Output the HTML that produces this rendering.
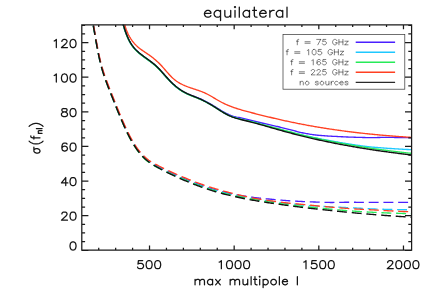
<!DOCTYPE html>
<html><head><meta charset="utf-8"><title>equilateral</title>
<style>html,body{margin:0;padding:0;background:#fff;font-family:"Liberation Sans",sans-serif}body{width:436px;height:300px;overflow:hidden}</style>
</head><body>
<svg width="436" height="300" viewBox="0 0 436 300" style="display:block">
<title>equilateral</title><desc>Plot titled "equilateral": sigma(f_nl) versus max multipole l (100 to 2048), y range 0 to 130. Solid and dashed curves for f = 75 GHz, f = 105 GHz, f = 165 GHz, f = 225 GHz and no sources.</desc>
<rect width="436" height="300" fill="#fff"/>
<defs><clipPath id="pc"><rect x="81.80" y="24.80" width="329.80" height="225.20"/></clipPath></defs>
<g transform="scale(1 1.0000)">
<g clip-path="url(#pc)"><g transform="scale(1 0.950)" fill="none" stroke-width="1.40" stroke-linejoin="round">
<path d="M122.03 20.96 L122.29 22.04 L122.55 23.13 L122.83 24.22 L123.10 25.31 L123.39 26.41 L123.68 27.50 L123.99 28.60 L124.30 29.69 L124.62 30.78 L124.95 31.87 L125.29 32.95 L125.65 34.03 L126.02 35.11 L126.40 36.17 L126.79 37.23 L127.20 38.28 L127.63 39.33 L128.07 40.36 L128.53 41.38 L129.00 42.38 L129.50 43.38 L130.01 44.36 L130.54 45.32 L131.09 46.27 L131.67 47.20 L132.26 48.12 L132.88 49.01 L133.52 49.89 L134.19 50.75 L134.88 51.58 L135.59 52.39 L136.33 53.18 L137.08 53.95 L137.86 54.70 L138.65 55.44 L139.46 56.16 L140.29 56.87 L141.12 57.56 L141.96 58.25 L142.82 58.92 L143.67 59.59 L144.54 60.26 L145.40 60.92 L146.27 61.58 L147.14 62.24 L148.01 62.90 L148.87 63.56 L149.73 64.22 L150.59 64.90 L151.44 65.57 L152.28 66.26 L153.11 66.96 L153.93 67.67 L154.74 68.40 L155.54 69.14 L156.33 69.90 L157.10 70.67 L157.86 71.46 L158.61 72.25 L159.35 73.06 L160.09 73.88 L160.82 74.71 L161.54 75.55 L162.26 76.39 L162.97 77.23 L163.69 78.08 L164.40 78.93 L165.11 79.78 L165.82 80.63 L166.53 81.47 L167.25 82.31 L167.97 83.15 L168.70 83.98 L169.43 84.80 L170.17 85.61 L170.92 86.41 L171.68 87.20 L172.45 87.98 L173.23 88.74 L174.02 89.49 L174.82 90.22 L175.63 90.94 L176.46 91.64 L177.29 92.32 L178.13 92.99 L178.99 93.64 L179.85 94.27 L180.73 94.88 L181.62 95.48 L182.52 96.05 L183.44 96.61 L184.36 97.14 L185.30 97.65 L186.25 98.14 L187.21 98.60 L188.18 99.05 L189.17 99.47 L190.16 99.89 L191.15 100.29 L192.15 100.68 L193.16 101.07 L194.16 101.46 L195.17 101.85 L196.18 102.24 L197.18 102.63 L198.18 103.04 L199.18 103.46 L200.17 103.89 L201.15 104.35 L202.13 104.81 L203.09 105.29 L204.06 105.79 L205.01 106.29 L205.96 106.81 L206.90 107.34 L207.84 107.88 L208.77 108.43 L209.70 108.98 L210.62 109.55 L211.54 110.12 L212.46 110.69 L213.37 111.28 L214.29 111.86 L215.19 112.45 L216.10 113.05 L217.01 113.64 L217.91 114.23 L218.82 114.82 L219.73 115.41 L220.64 115.99 L221.55 116.56 L222.46 117.12 L223.38 117.67 L224.30 118.21 L225.22 118.73 L226.15 119.24 L227.08 119.73 L228.02 120.20 L228.96 120.65 L229.92 121.07 L230.88 121.47 L231.85 121.84 L232.83 122.19 L233.81 122.51 L234.81 122.80 L235.82 123.07 L236.85 123.30 L237.88 123.49 L238.92 123.69 L239.95 123.91 L240.98 124.18 L242.01 124.44 L243.04 124.71 L244.08 124.97 L245.12 125.24 L246.16 125.51 L247.21 125.78 L248.25 126.04 L249.30 126.31 L250.34 126.57 L251.39 126.83 L252.43 127.09 L253.48 127.36 L254.52 127.63 L255.56 127.89 L256.60 128.15 L257.65 128.42 L258.69 128.68 L259.73 128.94 L260.77 129.20 L261.81 129.46 L262.86 129.72 L263.90 129.98 L264.94 130.23 L265.98 130.49 L267.03 130.74 L268.07 130.99 L269.11 131.24 L270.16 131.48 L271.20 131.73 L272.24 131.97 L273.28 132.22 L274.33 132.46 L275.37 132.70 L276.41 132.94 L277.45 133.18 L278.49 133.44 L279.52 133.70 L280.55 133.97 L281.59 134.24 L282.62 134.51 L283.65 134.78 L284.68 135.06 L285.71 135.33 L286.73 135.60 L287.76 135.87 L288.79 136.14 L289.82 136.42 L290.85 136.69 L291.87 136.98 L292.90 137.27 L293.92 137.57 L294.94 137.87 L295.96 138.17 L296.99 138.46 L298.01 138.75 L299.04 139.02 L300.08 139.28 L301.11 139.53 L302.15 139.76 L303.19 139.98 L304.23 140.20 L305.28 140.41 L306.33 140.61 L307.37 140.80 L308.42 140.99 L309.47 141.17 L310.52 141.36 L311.57 141.54 L312.62 141.71 L313.68 141.86 L314.73 142.00 L315.79 142.13 L316.86 142.25 L317.92 142.36 L318.98 142.46 L320.05 142.56 L321.12 142.66 L322.18 142.75 L323.25 142.84 L324.31 142.93 L325.38 143.02 L326.45 143.10 L327.51 143.17 L328.58 143.24 L329.65 143.30 L330.72 143.36 L331.79 143.42 L332.86 143.48 L333.93 143.53 L335.00 143.58 L336.07 143.64 L337.14 143.69 L338.20 143.75 L339.27 143.81 L340.34 143.87 L341.40 143.92 L342.47 143.98 L343.54 144.03 L344.60 144.08 L345.67 144.13 L346.74 144.18 L347.80 144.22 L348.87 144.26 L349.94 144.31 L351.00 144.35 L352.07 144.39 L353.14 144.42 L354.20 144.46 L355.27 144.49 L356.34 144.53 L357.40 144.56 L358.47 144.59 L359.53 144.62 L360.60 144.66 L361.66 144.69 L362.73 144.71 L363.79 144.74 L364.86 144.76 L365.93 144.79 L366.99 144.80 L368.06 144.82 L369.12 144.83 L370.19 144.84 L371.26 144.84 L372.32 144.84 L373.39 144.83 L374.46 144.81 L375.53 144.80 L376.60 144.78 L377.66 144.75 L378.73 144.73 L379.80 144.71 L380.87 144.69 L381.93 144.67 L383.00 144.65 L384.06 144.63 L385.13 144.62 L386.19 144.62 L387.25 144.62 L388.32 144.62 L389.38 144.63 L390.44 144.65 L391.50 144.66 L392.56 144.68 L393.61 144.69 L394.67 144.71 L395.73 144.72 L396.79 144.74 L397.85 144.75 L398.91 144.75 L399.97 144.76 L401.03 144.77 L402.08 144.78 L403.14 144.78 L404.20 144.79 L405.26 144.79 L406.32 144.80 L407.37 144.80 L408.43 144.80 L409.49 144.80 L410.55 144.80 L411.60 144.80 L412.66 144.80 L413.72 144.80 L414.77 144.80 L415.83 144.80 L416.89 144.80 L417.95 144.80" stroke="#4a1fff"/>
<path d="M122.03 20.96 L122.29 22.04 L122.55 23.13 L122.83 24.22 L123.10 25.31 L123.39 26.41 L123.68 27.50 L123.99 28.60 L124.30 29.69 L124.62 30.78 L124.95 31.87 L125.29 32.95 L125.65 34.03 L126.02 35.11 L126.40 36.17 L126.79 37.23 L127.20 38.28 L127.63 39.33 L128.07 40.36 L128.53 41.38 L129.00 42.38 L129.50 43.38 L130.01 44.36 L130.54 45.32 L131.09 46.27 L131.67 47.20 L132.26 48.12 L132.88 49.01 L133.52 49.89 L134.19 50.75 L134.88 51.58 L135.59 52.39 L136.33 53.18 L137.08 53.95 L137.86 54.70 L138.65 55.44 L139.46 56.16 L140.29 56.87 L141.12 57.56 L141.96 58.25 L142.82 58.92 L143.67 59.59 L144.54 60.26 L145.40 60.92 L146.27 61.58 L147.14 62.24 L148.01 62.90 L148.87 63.56 L149.73 64.22 L150.59 64.90 L151.44 65.57 L152.28 66.26 L153.11 66.96 L153.93 67.67 L154.74 68.40 L155.54 69.14 L156.33 69.90 L157.10 70.67 L157.86 71.46 L158.61 72.25 L159.35 73.06 L160.09 73.88 L160.82 74.71 L161.54 75.55 L162.26 76.39 L162.97 77.23 L163.69 78.08 L164.40 78.93 L165.11 79.78 L165.82 80.63 L166.53 81.47 L167.25 82.31 L167.97 83.15 L168.70 83.98 L169.43 84.80 L170.17 85.61 L170.92 86.41 L171.68 87.20 L172.45 87.98 L173.23 88.75 L174.01 89.50 L174.81 90.24 L175.62 90.96 L176.43 91.67 L177.26 92.36 L178.10 93.04 L178.95 93.70 L179.81 94.34 L180.68 94.96 L181.57 95.57 L182.46 96.15 L183.37 96.72 L184.29 97.27 L185.23 97.79 L186.17 98.30 L187.13 98.78 L188.10 99.25 L189.07 99.70 L190.06 100.13 L191.05 100.56 L192.04 100.98 L193.04 101.39 L194.03 101.80 L195.03 102.21 L196.03 102.62 L197.03 103.04 L198.02 103.46 L199.00 103.89 L199.98 104.33 L200.96 104.79 L201.92 105.26 L202.89 105.74 L203.84 106.23 L204.79 106.74 L205.73 107.25 L206.67 107.78 L207.61 108.32 L208.53 108.86 L209.46 109.41 L210.38 109.98 L211.30 110.54 L212.21 111.12 L213.12 111.70 L214.03 112.29 L214.94 112.88 L215.84 113.48 L216.74 114.08 L217.64 114.68 L218.54 115.28 L219.44 115.88 L220.34 116.47 L221.25 117.06 L222.16 117.64 L223.07 118.22 L223.98 118.78 L224.90 119.32 L225.83 119.86 L226.76 120.37 L227.70 120.87 L228.65 121.35 L229.60 121.80 L230.57 122.24 L231.54 122.64 L232.53 123.03 L233.52 123.39 L234.52 123.73 L235.53 124.06 L236.55 124.37 L237.57 124.66 L238.59 124.95 L239.63 125.22 L240.66 125.48 L241.70 125.74 L242.74 126.00 L243.79 126.25 L244.83 126.50 L245.87 126.75 L246.92 127.01 L247.96 127.27 L249.00 127.53 L250.04 127.80 L251.08 128.06 L252.12 128.34 L253.16 128.61 L254.20 128.89 L255.23 129.17 L256.27 129.45 L257.30 129.74 L258.34 130.02 L259.37 130.31 L260.40 130.60 L261.43 130.90 L262.46 131.19 L263.49 131.48 L264.52 131.78 L265.55 132.08 L266.58 132.37 L267.61 132.67 L268.64 132.97 L269.67 133.27 L270.70 133.57 L271.72 133.87 L272.75 134.17 L273.78 134.47 L274.81 134.76 L275.83 135.06 L276.86 135.36 L277.89 135.66 L278.92 135.95 L279.94 136.24 L280.97 136.54 L282.00 136.83 L283.03 137.12 L284.06 137.41 L285.09 137.69 L286.12 137.98 L287.15 138.26 L288.18 138.54 L289.21 138.82 L290.24 139.09 L291.27 139.37 L292.31 139.64 L293.34 139.91 L294.37 140.18 L295.41 140.44 L296.44 140.70 L297.48 140.97 L298.52 141.23 L299.55 141.48 L300.59 141.74 L301.63 141.99 L302.66 142.24 L303.70 142.49 L304.74 142.74 L305.78 142.98 L306.82 143.22 L307.86 143.46 L308.90 143.70 L309.95 143.94 L310.99 144.17 L312.03 144.40 L313.07 144.63 L314.12 144.86 L315.16 145.09 L316.20 145.31 L317.25 145.53 L318.29 145.75 L319.34 145.97 L320.38 146.19 L321.43 146.40 L322.48 146.62 L323.52 146.83 L324.57 147.04 L325.61 147.25 L326.66 147.46 L327.71 147.66 L328.76 147.87 L329.81 148.07 L330.85 148.27 L331.90 148.48 L332.95 148.68 L334.00 148.88 L335.05 149.07 L336.10 149.27 L337.15 149.46 L338.20 149.66 L339.25 149.85 L340.30 150.04 L341.35 150.23 L342.40 150.42 L343.45 150.60 L344.50 150.79 L345.55 150.97 L346.60 151.15 L347.66 151.33 L348.71 151.51 L349.76 151.68 L350.81 151.85 L351.87 152.02 L352.92 152.19 L353.98 152.36 L355.03 152.52 L356.08 152.69 L357.14 152.85 L358.20 153.00 L359.25 153.16 L360.31 153.31 L361.36 153.46 L362.42 153.61 L363.48 153.76 L364.53 153.90 L365.59 154.04 L366.65 154.18 L367.71 154.31 L368.77 154.44 L369.83 154.56 L370.89 154.68 L371.95 154.79 L373.01 154.89 L374.07 155.00 L375.14 155.09 L376.20 155.19 L377.26 155.28 L378.32 155.37 L379.39 155.46 L380.45 155.55 L381.51 155.64 L382.58 155.73 L383.64 155.81 L384.70 155.90 L385.77 155.98 L386.83 156.06 L387.89 156.13 L388.96 156.21 L390.02 156.28 L391.08 156.35 L392.15 156.42 L393.21 156.50 L394.27 156.57 L395.34 156.63 L396.40 156.70 L397.46 156.77 L398.53 156.84 L399.59 156.90 L400.65 156.96 L401.72 157.03 L402.78 157.09 L403.84 157.15 L404.90 157.21 L405.97 157.27 L407.03 157.33 L408.09 157.38 L409.15 157.44 L410.22 157.49 L411.28 157.54 L412.34 157.60 L413.40 157.65 L414.46 157.70 L415.53 157.75 L416.59 157.80" stroke="#1ec8ff"/>
<path d="M121.96 20.98 L122.23 22.06 L122.49 23.15 L122.76 24.24 L123.04 25.33 L123.32 26.43 L123.61 27.52 L123.91 28.62 L124.22 29.71 L124.54 30.81 L124.87 31.90 L125.21 32.98 L125.57 34.06 L125.93 35.14 L126.31 36.21 L126.70 37.27 L127.11 38.33 L127.53 39.37 L127.97 40.40 L128.43 41.43 L128.90 42.44 L129.39 43.44 L129.90 44.42 L130.43 45.39 L130.98 46.35 L131.55 47.29 L132.15 48.21 L132.76 49.11 L133.40 49.99 L134.07 50.85 L134.76 51.69 L135.47 52.51 L136.21 53.31 L136.97 54.08 L137.75 54.84 L138.54 55.58 L139.35 56.30 L140.18 57.01 L141.01 57.71 L141.86 58.39 L142.71 59.07 L143.57 59.74 L144.44 60.41 L145.30 61.07 L146.17 61.72 L147.04 62.38 L147.91 63.04 L148.77 63.70 L149.64 64.36 L150.49 65.03 L151.34 65.70 L152.19 66.39 L153.02 67.08 L153.84 67.79 L154.65 68.51 L155.45 69.25 L156.24 70.00 L157.01 70.77 L157.77 71.55 L158.52 72.34 L159.27 73.15 L160.00 73.97 L160.73 74.79 L161.46 75.63 L162.18 76.46 L162.89 77.31 L163.61 78.15 L164.32 79.00 L165.03 79.85 L165.74 80.70 L166.46 81.54 L167.18 82.38 L167.90 83.22 L168.63 84.05 L169.36 84.87 L170.10 85.68 L170.85 86.49 L171.61 87.28 L172.38 88.06 L173.16 88.82 L173.95 89.57 L174.75 90.31 L175.55 91.04 L176.37 91.75 L177.20 92.44 L178.04 93.12 L178.89 93.78 L179.76 94.42 L180.63 95.05 L181.51 95.65 L182.41 96.24 L183.32 96.81 L184.25 97.36 L185.18 97.89 L186.13 98.39 L187.09 98.88 L188.06 99.34 L189.03 99.79 L190.02 100.23 L191.01 100.66 L192.00 101.08 L193.00 101.49 L194.00 101.90 L195.00 102.31 L195.99 102.72 L196.99 103.13 L197.98 103.55 L198.97 103.98 L199.95 104.42 L200.92 104.88 L201.89 105.34 L202.85 105.82 L203.80 106.31 L204.75 106.82 L205.70 107.33 L206.63 107.85 L207.57 108.39 L208.50 108.93 L209.42 109.48 L210.34 110.04 L211.26 110.61 L212.18 111.18 L213.09 111.76 L214.00 112.35 L214.90 112.94 L215.81 113.53 L216.71 114.13 L217.61 114.73 L218.51 115.33 L219.41 115.93 L220.32 116.52 L221.22 117.11 L222.13 117.69 L223.04 118.26 L223.96 118.82 L224.88 119.37 L225.80 119.90 L226.74 120.41 L227.68 120.91 L228.63 121.38 L229.59 121.84 L230.56 122.26 L231.53 122.66 L232.52 123.04 L233.52 123.40 L234.52 123.73 L235.53 124.05 L236.55 124.35 L237.57 124.64 L238.60 124.92 L239.63 125.19 L240.67 125.45 L241.71 125.71 L242.75 125.96 L243.79 126.21 L244.84 126.46 L245.88 126.71 L246.93 126.97 L247.97 127.23 L249.01 127.49 L250.05 127.76 L251.09 128.03 L252.13 128.30 L253.17 128.57 L254.21 128.85 L255.24 129.13 L256.28 129.41 L257.31 129.70 L258.35 129.98 L259.38 130.27 L260.41 130.56 L261.45 130.85 L262.48 131.14 L263.51 131.43 L264.54 131.73 L265.57 132.02 L266.60 132.32 L267.63 132.61 L268.66 132.90 L269.69 133.20 L270.72 133.49 L271.75 133.78 L272.78 134.07 L273.81 134.36 L274.84 134.65 L275.87 134.93 L276.90 135.21 L277.93 135.50 L278.96 135.78 L279.99 136.06 L281.02 136.35 L282.05 136.63 L283.08 136.92 L284.11 137.20 L285.14 137.49 L286.17 137.78 L287.20 138.07 L288.23 138.36 L289.25 138.64 L290.28 138.92 L291.31 139.21 L292.34 139.49 L293.38 139.77 L294.41 140.04 L295.44 140.32 L296.47 140.59 L297.50 140.87 L298.54 141.14 L299.57 141.41 L300.60 141.68 L301.64 141.94 L302.67 142.21 L303.71 142.47 L304.74 142.73 L305.78 142.99 L306.82 143.25 L307.85 143.51 L308.89 143.76 L309.93 144.01 L310.97 144.26 L312.01 144.51 L313.05 144.76 L314.08 145.00 L315.12 145.25 L316.16 145.49 L317.21 145.73 L318.25 145.97 L319.29 146.21 L320.33 146.45 L321.37 146.68 L322.41 146.91 L323.46 147.15 L324.50 147.38 L325.54 147.60 L326.59 147.83 L327.63 148.06 L328.68 148.28 L329.72 148.50 L330.77 148.72 L331.81 148.94 L332.86 149.16 L333.90 149.38 L334.95 149.59 L336.00 149.80 L337.04 150.01 L338.09 150.22 L339.14 150.43 L340.19 150.64 L341.24 150.84 L342.29 151.05 L343.33 151.25 L344.38 151.45 L345.43 151.65 L346.48 151.84 L347.53 152.04 L348.58 152.23 L349.63 152.43 L350.69 152.62 L351.74 152.81 L352.79 153.00 L353.84 153.18 L354.89 153.37 L355.94 153.55 L357.00 153.74 L358.05 153.92 L359.10 154.10 L360.16 154.27 L361.21 154.45 L362.26 154.63 L363.32 154.80 L364.37 154.97 L365.42 155.15 L366.48 155.32 L367.53 155.48 L368.59 155.65 L369.64 155.82 L370.70 155.98 L371.75 156.15 L372.81 156.31 L373.86 156.47 L374.92 156.63 L375.97 156.79 L377.03 156.95 L378.09 157.10 L379.14 157.26 L380.20 157.41 L381.25 157.56 L382.31 157.71 L383.37 157.86 L384.42 158.01 L385.48 158.16 L386.54 158.31 L387.59 158.45 L388.65 158.60 L389.71 158.74 L390.77 158.88 L391.82 159.02 L392.88 159.16 L393.94 159.30 L395.00 159.44 L396.05 159.57 L397.11 159.71 L398.17 159.84 L399.23 159.97 L400.29 160.10 L401.34 160.23 L402.40 160.36 L403.46 160.49 L404.52 160.61 L405.58 160.74 L406.63 160.86 L407.69 160.98 L408.75 161.10 L409.81 161.22 L410.87 161.34 L411.93 161.46 L412.98 161.57 L414.04 161.68 L415.10 161.79 L416.16 161.90" stroke="#26ea58"/>
<path d="M123.80 20.87 L123.97 21.99 L124.17 23.11 L124.38 24.22 L124.62 25.32 L124.87 26.41 L125.15 27.49 L125.45 28.57 L125.77 29.63 L126.11 30.69 L126.47 31.73 L126.85 32.76 L127.25 33.78 L127.67 34.79 L128.11 35.79 L128.57 36.77 L129.06 37.73 L129.56 38.69 L130.08 39.62 L130.62 40.54 L131.19 41.45 L131.77 42.34 L132.37 43.21 L133.00 44.06 L133.64 44.89 L134.30 45.71 L134.98 46.51 L135.69 47.28 L136.41 48.04 L137.15 48.77 L137.91 49.48 L138.69 50.17 L139.49 50.85 L140.30 51.50 L141.13 52.14 L141.97 52.77 L142.81 53.39 L143.66 54.01 L144.52 54.62 L145.38 55.22 L146.24 55.83 L147.09 56.43 L147.95 57.04 L148.80 57.66 L149.64 58.29 L150.47 58.92 L151.30 59.57 L152.11 60.22 L152.92 60.89 L153.73 61.56 L154.52 62.25 L155.31 62.95 L156.08 63.66 L156.85 64.38 L157.61 65.12 L158.36 65.86 L159.11 66.62 L159.84 67.40 L160.56 68.19 L161.28 68.99 L161.99 69.80 L162.69 70.62 L163.39 71.45 L164.08 72.29 L164.77 73.13 L165.46 73.97 L166.15 74.81 L166.84 75.65 L167.54 76.48 L168.24 77.31 L168.94 78.13 L169.65 78.94 L170.37 79.74 L171.10 80.52 L171.83 81.29 L172.58 82.04 L173.35 82.77 L174.12 83.48 L174.92 84.16 L175.73 84.82 L176.55 85.45 L177.40 86.05 L178.26 86.63 L179.13 87.18 L180.02 87.72 L180.92 88.23 L181.83 88.72 L182.76 89.20 L183.69 89.65 L184.64 90.09 L185.59 90.52 L186.55 90.93 L187.52 91.32 L188.49 91.71 L189.48 92.08 L190.46 92.45 L191.45 92.80 L192.44 93.15 L193.44 93.49 L194.43 93.83 L195.43 94.18 L196.42 94.52 L197.42 94.86 L198.41 95.21 L199.40 95.57 L200.38 95.94 L201.36 96.32 L202.33 96.71 L203.30 97.12 L204.25 97.55 L205.20 97.99 L206.14 98.46 L207.07 98.94 L208.00 99.44 L208.91 99.96 L209.82 100.49 L210.72 101.04 L211.62 101.59 L212.52 102.15 L213.41 102.71 L214.31 103.28 L215.20 103.85 L216.09 104.41 L216.98 104.97 L217.88 105.53 L218.78 106.07 L219.68 106.61 L220.59 107.13 L221.50 107.64 L222.42 108.14 L223.35 108.62 L224.28 109.09 L225.21 109.55 L226.15 109.99 L227.10 110.42 L228.05 110.85 L229.00 111.26 L229.96 111.66 L230.92 112.05 L231.89 112.43 L232.86 112.80 L233.83 113.17 L234.81 113.52 L235.79 113.87 L236.77 114.21 L237.75 114.54 L238.74 114.87 L239.73 115.19 L240.73 115.50 L241.72 115.81 L242.72 116.11 L243.72 116.41 L244.72 116.70 L245.72 116.99 L246.72 117.28 L247.73 117.56 L248.73 117.84 L249.74 118.12 L250.75 118.39 L251.75 118.67 L252.76 118.94 L253.77 119.21 L254.78 119.48 L255.79 119.76 L256.80 120.03 L257.80 120.29 L258.81 120.56 L259.82 120.83 L260.83 121.10 L261.84 121.36 L262.85 121.62 L263.86 121.89 L264.87 122.15 L265.88 122.41 L266.89 122.67 L267.91 122.93 L268.92 123.19 L269.93 123.44 L270.94 123.70 L271.95 123.95 L272.96 124.20 L273.98 124.46 L274.99 124.71 L276.00 124.95 L277.02 125.20 L278.03 125.45 L279.04 125.69 L280.06 125.94 L281.07 126.18 L282.09 126.42 L283.10 126.66 L284.12 126.89 L285.13 127.13 L286.15 127.36 L287.17 127.59 L288.18 127.82 L289.20 128.05 L290.22 128.28 L291.23 128.51 L292.25 128.73 L293.27 128.95 L294.29 129.17 L295.31 129.39 L296.33 129.61 L297.35 129.82 L298.37 130.04 L299.39 130.25 L300.41 130.46 L301.43 130.67 L302.45 130.87 L303.47 131.08 L304.49 131.28 L305.51 131.48 L306.54 131.68 L307.56 131.88 L308.58 132.08 L309.60 132.27 L310.63 132.47 L311.65 132.66 L312.68 132.85 L313.70 133.04 L314.72 133.22 L315.75 133.41 L316.77 133.59 L317.80 133.78 L318.82 133.96 L319.85 134.14 L320.88 134.31 L321.90 134.49 L322.93 134.66 L323.96 134.84 L324.98 135.01 L326.01 135.18 L327.04 135.35 L328.07 135.51 L329.09 135.68 L330.12 135.84 L331.15 136.01 L332.18 136.17 L333.21 136.33 L334.24 136.48 L335.27 136.64 L336.30 136.80 L337.33 136.95 L338.36 137.10 L339.39 137.25 L340.42 137.40 L341.45 137.55 L342.48 137.70 L343.51 137.84 L344.54 137.98 L345.57 138.13 L346.60 138.27 L347.63 138.41 L348.67 138.54 L349.70 138.68 L350.73 138.82 L351.76 138.95 L352.80 139.08 L353.83 139.21 L354.86 139.34 L355.90 139.47 L356.93 139.60 L357.96 139.72 L359.00 139.85 L360.03 139.97 L361.06 140.09 L362.10 140.21 L363.13 140.33 L364.17 140.45 L365.20 140.57 L366.23 140.68 L367.27 140.80 L368.30 140.91 L369.34 141.02 L370.37 141.13 L371.41 141.24 L372.44 141.35 L373.48 141.46 L374.52 141.56 L375.55 141.67 L376.59 141.77 L377.62 141.87 L378.66 141.97 L379.69 142.07 L380.73 142.17 L381.77 142.27 L382.80 142.36 L383.84 142.46 L384.88 142.55 L385.91 142.64 L386.95 142.73 L387.99 142.82 L389.02 142.91 L390.06 143.00 L391.10 143.09 L392.13 143.17 L393.17 143.26 L394.21 143.34 L395.25 143.42 L396.28 143.50 L397.32 143.58 L398.36 143.66 L399.39 143.74 L400.43 143.82 L401.47 143.89 L402.51 143.97 L403.54 144.04 L404.58 144.12 L405.62 144.19 L406.66 144.26 L407.69 144.33 L408.73 144.40 L409.77 144.46 L410.81 144.53 L411.85 144.60 L412.88 144.66 L413.92 144.72 L414.96 144.79 L416.00 144.85" stroke="#ff4022"/>
<path d="M122.10 20.94 L122.36 22.02 L122.63 23.11 L122.90 24.20 L123.18 25.29 L123.47 26.38 L123.76 27.48 L124.07 28.57 L124.38 29.66 L124.70 30.75 L125.04 31.84 L125.38 32.92 L125.74 34.00 L126.11 35.07 L126.50 36.13 L126.90 37.19 L127.31 38.24 L127.74 39.27 L128.18 40.30 L128.65 41.32 L129.12 42.32 L129.62 43.31 L130.14 44.28 L130.67 45.24 L131.23 46.18 L131.81 47.11 L132.40 48.01 L133.02 48.90 L133.67 49.77 L134.33 50.61 L135.03 51.44 L135.74 52.24 L136.48 53.02 L137.23 53.78 L138.01 54.53 L138.80 55.26 L139.61 55.97 L140.43 56.67 L141.27 57.37 L142.11 58.05 L142.96 58.72 L143.82 59.39 L144.68 60.05 L145.55 60.71 L146.41 61.37 L147.28 62.03 L148.15 62.69 L149.01 63.35 L149.88 64.02 L150.73 64.69 L151.58 65.38 L152.43 66.07 L153.26 66.77 L154.08 67.49 L154.89 68.22 L155.69 68.97 L156.48 69.73 L157.25 70.51 L158.01 71.30 L158.76 72.10 L159.50 72.91 L160.24 73.74 L160.97 74.57 L161.69 75.40 L162.41 76.25 L163.12 77.09 L163.83 77.94 L164.55 78.79 L165.26 79.64 L165.97 80.49 L166.68 81.33 L167.40 82.17 L168.12 83.00 L168.85 83.83 L169.58 84.65 L170.32 85.46 L171.07 86.26 L171.83 87.04 L172.60 87.82 L173.37 88.58 L174.16 89.32 L174.96 90.06 L175.76 90.78 L176.58 91.48 L177.40 92.17 L178.24 92.84 L179.09 93.50 L179.94 94.13 L180.81 94.76 L181.69 95.36 L182.59 95.94 L183.49 96.50 L184.41 97.05 L185.34 97.57 L186.28 98.07 L187.23 98.56 L188.19 99.02 L189.17 99.47 L190.15 99.91 L191.13 100.34 L192.12 100.76 L193.12 101.18 L194.11 101.59 L195.11 102.01 L196.11 102.42 L197.10 102.85 L198.09 103.27 L199.08 103.71 L200.06 104.16 L201.03 104.62 L202.00 105.10 L202.96 105.59 L203.91 106.09 L204.86 106.60 L205.80 107.12 L206.74 107.66 L207.67 108.20 L208.59 108.75 L209.52 109.31 L210.43 109.88 L211.35 110.46 L212.26 111.04 L213.16 111.63 L214.07 112.23 L214.97 112.83 L215.87 113.43 L216.76 114.04 L217.66 114.65 L218.55 115.26 L219.45 115.87 L220.35 116.47 L221.25 117.07 L222.15 117.66 L223.05 118.24 L223.96 118.81 L224.88 119.37 L225.80 119.91 L226.73 120.44 L227.66 120.95 L228.60 121.44 L229.56 121.91 L230.52 122.36 L231.49 122.78 L232.47 123.18 L233.46 123.56 L234.46 123.91 L235.47 124.25 L236.49 124.58 L237.51 124.89 L238.53 125.19 L239.56 125.48 L240.60 125.76 L241.63 126.03 L242.67 126.30 L243.71 126.57 L244.75 126.83 L245.79 127.10 L246.84 127.37 L247.87 127.64 L248.91 127.91 L249.95 128.19 L250.98 128.47 L252.02 128.75 L253.05 129.04 L254.09 129.33 L255.12 129.62 L256.15 129.92 L257.18 130.21 L258.21 130.51 L259.24 130.81 L260.27 131.11 L261.30 131.41 L262.32 131.72 L263.35 132.02 L264.38 132.33 L265.40 132.63 L266.43 132.94 L267.45 133.25 L268.48 133.56 L269.50 133.87 L270.53 134.18 L271.55 134.49 L272.58 134.80 L273.60 135.11 L274.63 135.42 L275.65 135.73 L276.68 136.04 L277.70 136.35 L278.73 136.65 L279.75 136.96 L280.78 137.26 L281.80 137.57 L282.83 137.87 L283.86 138.17 L284.88 138.47 L285.91 138.77 L286.94 139.06 L287.97 139.35 L289.00 139.65 L290.03 139.94 L291.06 140.22 L292.09 140.51 L293.12 140.79 L294.15 141.08 L295.18 141.36 L296.22 141.64 L297.25 141.91 L298.28 142.19 L299.32 142.46 L300.35 142.74 L301.39 143.01 L302.42 143.28 L303.46 143.54 L304.50 143.81 L305.53 144.07 L306.57 144.33 L307.61 144.59 L308.65 144.85 L309.69 145.11 L310.72 145.36 L311.76 145.62 L312.80 145.87 L313.84 146.12 L314.88 146.37 L315.93 146.61 L316.97 146.86 L318.01 147.10 L319.05 147.35 L320.09 147.59 L321.14 147.82 L322.18 148.06 L323.22 148.30 L324.27 148.53 L325.31 148.76 L326.36 148.99 L327.40 149.22 L328.45 149.45 L329.49 149.68 L330.54 149.90 L331.59 150.13 L332.63 150.35 L333.68 150.57 L334.73 150.79 L335.77 151.00 L336.82 151.22 L337.87 151.43 L338.92 151.65 L339.97 151.86 L341.02 152.07 L342.07 152.28 L343.12 152.48 L344.17 152.69 L345.22 152.89 L346.27 153.09 L347.32 153.29 L348.37 153.49 L349.42 153.69 L350.47 153.89 L351.52 154.08 L352.58 154.28 L353.63 154.47 L354.68 154.66 L355.73 154.85 L356.79 155.04 L357.84 155.23 L358.89 155.41 L359.95 155.60 L361.00 155.78 L362.06 155.96 L363.11 156.14 L364.16 156.32 L365.22 156.50 L366.27 156.68 L367.33 156.85 L368.38 157.03 L369.44 157.20 L370.49 157.37 L371.55 157.54 L372.61 157.71 L373.66 157.88 L374.72 158.04 L375.77 158.21 L376.83 158.37 L377.89 158.53 L378.94 158.69 L380.00 158.85 L381.06 159.01 L382.12 159.17 L383.17 159.33 L384.23 159.48 L385.29 159.64 L386.35 159.79 L387.40 159.94 L388.46 160.09 L389.52 160.24 L390.58 160.39 L391.63 160.54 L392.69 160.68 L393.75 160.83 L394.81 160.97 L395.87 161.11 L396.93 161.25 L397.98 161.39 L399.04 161.53 L400.10 161.67 L401.16 161.81 L402.22 161.95 L403.28 162.08 L404.34 162.21 L405.39 162.35 L406.45 162.48 L407.51 162.61 L408.57 162.74 L409.63 162.87 L410.69 163.00 L411.75 163.12 L412.81 163.25 L413.86 163.37 L414.92 163.50 L415.98 163.62" stroke="#111111" stroke-width="1.45"/>
<path d="M93.21 25.55 L93.42 26.78 L93.63 28.01 L93.84 29.24 L94.04 30.47 L94.25 31.70 L94.45 32.93 L94.65 34.16 L94.85 35.39 L95.05 36.63 L95.26 37.86 L95.46 39.09 L95.66 40.33 L95.86 41.56 L96.07 42.79 L96.27 44.03 L96.48 45.26 L96.69 46.49 L96.90 47.72 L97.12 48.95 L97.34 50.18 L97.56 51.41 L97.78 52.64 L98.01 53.87 L98.25 55.10 L98.48 56.32 L98.73 57.55 L98.98 58.77 L99.23 59.99 L99.49 61.21 L99.75 62.43 L100.02 63.64 L100.30 64.85 L100.59 66.07 L100.88 67.28 L101.18 68.48 L101.49 69.69 L101.80 70.89 L102.13 72.09 L102.46 73.28 L102.80 74.48 L103.15 75.67 L103.51 76.86 L103.88 78.04 L104.26 79.23 L104.64 80.41 L105.03 81.59 L105.42 82.77 L105.82 83.94 L106.23 85.12 L106.64 86.29 L107.06 87.46 L107.48 88.63 L107.90 89.80 L108.33 90.97 L108.76 92.13 L109.20 93.30 L109.63 94.46 L110.07 95.63 L110.51 96.79 L110.95 97.95 L111.39 99.12 L111.84 100.28 L112.28 101.44 L112.72 102.60 L113.16 103.76 L113.60 104.92 L114.04 106.08 L114.48 107.24 L114.92 108.40 L115.36 109.56 L115.80 110.72 L116.24 111.88 L116.69 113.03 L117.13 114.19 L117.58 115.35 L118.02 116.50 L118.47 117.66 L118.92 118.81 L119.37 119.96 L119.82 121.12 L120.28 122.27 L120.74 123.42 L121.20 124.57 L121.66 125.72 L122.13 126.87 L122.60 128.01 L123.07 129.16 L123.55 130.31 L124.03 131.45 L124.52 132.59 L125.01 133.73 L125.50 134.87 L126.00 136.01 L126.51 137.14 L127.02 138.27 L127.54 139.40 L128.06 140.52 L128.60 141.64 L129.14 142.76 L129.69 143.87 L130.24 144.97 L130.81 146.07 L131.38 147.16 L131.97 148.24 L132.57 149.32 L133.17 150.39 L133.79 151.46 L134.42 152.51 L135.06 153.56 L135.72 154.60 L136.39 155.63 L137.07 156.65 L137.76 157.65 L138.48 158.65 L139.20 159.63 L139.95 160.60 L140.71 161.56 L141.49 162.49 L142.28 163.41 L143.10 164.31 L143.93 165.18 L144.78 166.03 L145.65 166.85 L146.53 167.65 L147.44 168.42 L148.37 169.16 L149.31 169.88 L150.28 170.57 L151.26 171.24 L152.25 171.89 L153.25 172.52 L154.27 173.14 L155.30 173.74 L156.34 174.33 L157.38 174.92 L158.43 175.49 L159.48 176.07 L160.54 176.64 L161.60 177.20 L162.66 177.76 L163.72 178.32 L164.79 178.87 L165.85 179.41 L166.92 179.95 L167.99 180.49 L169.06 181.02 L170.14 181.55 L171.21 182.07 L172.29 182.59 L173.36 183.10 L174.44 183.61 L175.52 184.12 L176.61 184.62 L177.69 185.12 L178.77 185.62 L179.86 186.12 L180.94 186.61 L182.03 187.11 L183.12 187.59 L184.21 188.08 L185.30 188.56 L186.39 189.03 L187.49 189.51 L188.58 189.98 L189.68 190.44 L190.78 190.90 L191.88 191.36 L192.98 191.81 L194.08 192.26 L195.19 192.70 L196.30 193.14 L197.40 193.58 L198.51 194.01 L199.62 194.43 L200.74 194.85 L201.85 195.27 L202.97 195.68 L204.08 196.08 L205.20 196.48 L206.32 196.87 L207.44 197.26 L208.57 197.64 L209.69 198.02 L210.82 198.39 L211.95 198.75 L213.08 199.11 L214.21 199.46 L215.34 199.80 L216.48 200.13 L217.61 200.47 L218.75 200.79 L219.89 201.11 L221.03 201.42 L222.17 201.72 L223.32 202.02 L224.46 202.32 L225.61 202.60 L226.76 202.89 L227.91 203.16 L229.06 203.43 L230.21 203.69 L231.37 203.95 L232.53 204.20 L233.68 204.44 L234.84 204.68 L236.00 204.91 L237.16 205.14 L238.33 205.36 L239.49 205.58 L240.65 205.79 L241.82 206.00 L242.98 206.20 L244.15 206.40 L245.32 206.59 L246.49 206.78 L247.66 206.96 L248.83 207.14 L250.00 207.31 L251.17 207.48 L252.35 207.64 L253.52 207.80 L254.70 207.95 L255.87 208.11 L257.05 208.25 L258.23 208.39 L259.40 208.52 L260.58 208.65 L261.76 208.78 L262.94 208.90 L264.12 209.02 L265.31 209.13 L266.49 209.25 L267.67 209.36 L268.85 209.48 L270.03 209.59 L271.21 209.71 L272.39 209.83 L273.57 209.94 L274.75 210.06 L275.93 210.18 L277.11 210.29 L278.29 210.41 L279.47 210.52 L280.65 210.63 L281.83 210.74 L283.02 210.84 L284.20 210.95 L285.38 211.04 L286.56 211.14 L287.74 211.23 L288.92 211.32 L290.11 211.40 L291.29 211.49 L292.47 211.57 L293.66 211.64 L294.84 211.72 L296.02 211.79 L297.21 211.86 L298.39 211.93 L299.57 212.00 L300.76 212.06 L301.94 212.12 L303.13 212.18 L304.31 212.24 L305.50 212.29 L306.68 212.34 L307.87 212.39 L309.05 212.44 L310.24 212.48 L311.42 212.53 L312.61 212.57 L313.79 212.61 L314.98 212.66 L316.16 212.70 L317.35 212.74 L318.53 212.79 L319.72 212.83 L320.91 212.88 L322.09 212.92 L323.28 212.96 L324.46 213.00 L325.65 213.03 L326.84 213.06 L328.02 213.08 L329.21 213.11 L330.40 213.12 L331.59 213.12 L332.78 213.12 L333.97 213.11 L335.16 213.09 L336.35 213.07 L337.54 213.05 L338.73 213.03 L339.92 213.00 L341.11 212.98 L342.30 212.96 L343.49 212.94 L344.68 212.93 L345.87 212.93 L347.06 212.93 L348.25 212.92 L349.43 212.92 L350.62 212.92 L351.81 212.92 L352.99 212.93 L354.18 212.93 L355.37 212.93 L356.55 212.94 L357.74 212.94 L358.93 212.95 L360.11 212.95 L361.30 212.96 L362.48 212.96 L363.67 212.97 L364.85 212.98 L366.04 212.99 L367.22 212.99 L368.40 213.00 L369.59 213.01 L370.77 213.02 L371.96 213.02 L373.14 213.03 L374.32 213.04 L375.51 213.04 L376.69 213.05 L377.87 213.05 L379.06 213.06 L380.24 213.07 L381.42 213.07 L382.60 213.08 L383.79 213.08 L384.97 213.08 L386.15 213.09 L387.33 213.09 L388.52 213.09 L389.70 213.09 L390.88 213.09 L392.06 213.08 L393.24 213.08 L394.42 213.08 L395.61 213.07 L396.79 213.06 L397.97 213.06 L399.15 213.05 L400.33 213.05 L401.51 213.04 L402.69 213.04 L403.87 213.03 L405.05 213.03 L406.23 213.03 L407.41 213.03 L408.59 213.03 L409.77 213.02 L410.94 213.02 L412.12 213.01 L413.30 213.00 L414.48 212.99 L415.66 212.97 L416.84 212.96" stroke="#4a1fff" stroke-dasharray="9.95 4.78" stroke-dashoffset="-1.4"/>
<path d="M93.17 25.56 L93.38 26.79 L93.59 28.02 L93.79 29.25 L94.00 30.48 L94.20 31.71 L94.41 32.94 L94.61 34.17 L94.81 35.40 L95.01 36.63 L95.21 37.87 L95.41 39.10 L95.61 40.33 L95.82 41.57 L96.02 42.80 L96.23 44.03 L96.43 45.27 L96.64 46.50 L96.85 47.73 L97.07 48.96 L97.29 50.19 L97.51 51.42 L97.73 52.65 L97.96 53.88 L98.19 55.11 L98.43 56.33 L98.67 57.56 L98.91 58.78 L99.17 60.00 L99.42 61.22 L99.69 62.44 L99.96 63.66 L100.23 64.87 L100.52 66.08 L100.81 67.30 L101.10 68.50 L101.41 69.71 L101.72 70.91 L102.04 72.11 L102.37 73.31 L102.71 74.51 L103.06 75.70 L103.42 76.89 L103.78 78.08 L104.15 79.26 L104.53 80.45 L104.92 81.63 L105.31 82.81 L105.71 83.99 L106.11 85.16 L106.52 86.34 L106.94 87.51 L107.35 88.68 L107.78 89.85 L108.20 91.02 L108.63 92.19 L109.07 93.35 L109.50 94.52 L109.94 95.68 L110.38 96.85 L110.81 98.01 L111.26 99.17 L111.70 100.34 L112.14 101.50 L112.58 102.66 L113.02 103.82 L113.46 104.98 L113.90 106.14 L114.34 107.30 L114.77 108.46 L115.21 109.62 L115.65 110.78 L116.10 111.94 L116.54 113.10 L116.98 114.26 L117.42 115.41 L117.87 116.57 L118.31 117.72 L118.76 118.88 L119.21 120.03 L119.67 121.19 L120.12 122.34 L120.58 123.49 L121.04 124.64 L121.50 125.79 L121.96 126.94 L122.43 128.09 L122.90 129.24 L123.38 130.39 L123.86 131.53 L124.34 132.68 L124.83 133.82 L125.32 134.96 L125.82 136.10 L126.33 137.23 L126.84 138.37 L127.36 139.49 L127.88 140.62 L128.41 141.74 L128.95 142.86 L129.50 143.97 L130.06 145.07 L130.63 146.17 L131.21 147.26 L131.79 148.35 L132.39 149.43 L133.00 150.50 L133.62 151.57 L134.25 152.62 L134.90 153.67 L135.56 154.71 L136.23 155.74 L136.91 156.76 L137.61 157.77 L138.33 158.77 L139.06 159.76 L139.80 160.73 L140.56 161.69 L141.34 162.63 L142.13 163.56 L142.94 164.46 L143.77 165.35 L144.61 166.21 L145.48 167.05 L146.36 167.86 L147.26 168.65 L148.18 169.41 L149.12 170.15 L150.08 170.86 L151.05 171.55 L152.04 172.23 L153.04 172.88 L154.05 173.52 L155.07 174.15 L156.10 174.76 L157.14 175.37 L158.19 175.96 L159.24 176.55 L160.29 177.13 L161.34 177.71 L162.40 178.29 L163.46 178.85 L164.52 179.42 L165.58 179.98 L166.64 180.53 L167.71 181.08 L168.78 181.63 L169.85 182.17 L170.92 182.70 L171.99 183.23 L173.07 183.76 L174.15 184.28 L175.22 184.80 L176.31 185.31 L177.39 185.82 L178.47 186.32 L179.56 186.82 L180.65 187.32 L181.74 187.81 L182.83 188.30 L183.92 188.78 L185.02 189.26 L186.11 189.73 L187.21 190.20 L188.31 190.67 L189.41 191.13 L190.51 191.59 L191.62 192.05 L192.72 192.50 L193.83 192.94 L194.94 193.38 L196.05 193.82 L197.16 194.25 L198.28 194.68 L199.39 195.10 L200.51 195.52 L201.62 195.93 L202.74 196.34 L203.86 196.75 L204.98 197.15 L206.11 197.54 L207.23 197.93 L208.36 198.31 L209.49 198.69 L210.61 199.06 L211.75 199.43 L212.88 199.79 L214.01 200.14 L215.14 200.49 L216.28 200.84 L217.42 201.18 L218.56 201.51 L219.70 201.84 L220.84 202.16 L221.98 202.48 L223.13 202.79 L224.27 203.09 L225.42 203.39 L226.57 203.69 L227.72 203.98 L228.87 204.27 L230.02 204.55 L231.17 204.83 L232.33 205.10 L233.48 205.36 L234.64 205.63 L235.80 205.88 L236.96 206.14 L238.12 206.39 L239.28 206.63 L240.44 206.87 L241.60 207.10 L242.77 207.33 L243.93 207.55 L245.10 207.77 L246.27 207.98 L247.44 208.18 L248.61 208.38 L249.78 208.58 L250.95 208.78 L252.12 208.97 L253.29 209.17 L254.46 209.36 L255.64 209.55 L256.81 209.74 L257.98 209.93 L259.15 210.12 L260.33 210.30 L261.50 210.49 L262.67 210.67 L263.85 210.85 L265.02 211.03 L266.20 211.21 L267.37 211.38 L268.55 211.56 L269.72 211.73 L270.90 211.90 L272.07 212.07 L273.25 212.24 L274.43 212.41 L275.60 212.57 L276.78 212.73 L277.96 212.90 L279.13 213.05 L280.31 213.21 L281.49 213.37 L282.66 213.52 L283.84 213.67 L285.02 213.82 L286.20 213.97 L287.37 214.12 L288.55 214.26 L289.73 214.41 L290.91 214.55 L292.09 214.69 L293.27 214.82 L294.44 214.96 L295.62 215.09 L296.80 215.22 L297.98 215.35 L299.16 215.47 L300.34 215.59 L301.52 215.71 L302.71 215.82 L303.89 215.92 L305.07 216.02 L306.25 216.12 L307.44 216.21 L308.62 216.30 L309.80 216.38 L310.99 216.47 L312.17 216.55 L313.36 216.63 L314.54 216.72 L315.72 216.80 L316.91 216.87 L318.09 216.95 L319.28 217.02 L320.46 217.09 L321.65 217.16 L322.83 217.23 L324.02 217.30 L325.21 217.36 L326.39 217.43 L327.58 217.49 L328.76 217.56 L329.95 217.62 L331.14 217.68 L332.32 217.75 L333.51 217.81 L334.69 217.87 L335.88 217.93 L337.07 217.98 L338.25 218.04 L339.44 218.10 L340.62 218.16 L341.81 218.22 L342.99 218.28 L344.18 218.34 L345.36 218.40 L346.55 218.47 L347.74 218.53 L348.92 218.59 L350.11 218.65 L351.29 218.72 L352.47 218.78 L353.66 218.85 L354.84 218.91 L356.03 218.97 L357.21 219.04 L358.40 219.10 L359.58 219.17 L360.77 219.24 L361.95 219.31 L363.13 219.38 L364.32 219.45 L365.50 219.51 L366.68 219.58 L367.87 219.65 L369.05 219.72 L370.24 219.78 L371.42 219.84 L372.60 219.90 L373.79 219.95 L374.97 220.00 L376.16 220.05 L377.34 220.09 L378.53 220.14 L379.71 220.17 L380.90 220.21 L382.08 220.25 L383.27 220.28 L384.45 220.31 L385.64 220.35 L386.82 220.38 L388.01 220.41 L389.19 220.44 L390.38 220.46 L391.56 220.49 L392.75 220.51 L393.93 220.54 L395.12 220.56 L396.30 220.58 L397.48 220.60 L398.67 220.62 L399.85 220.64 L401.04 220.66 L402.22 220.68 L403.40 220.71 L404.59 220.73 L405.77 220.76 L406.95 220.78 L408.14 220.81 L409.32 220.83 L410.50 220.85 L411.69 220.87 L412.87 220.89 L414.05 220.91 L415.24 220.92 L416.42 220.93" stroke="#1ec8ff" stroke-dasharray="9.95 4.78" stroke-dashoffset="-1.4"/>
<path d="M93.03 25.59 L93.24 26.81 L93.46 28.04 L93.66 29.27 L93.87 30.50 L94.08 31.73 L94.28 32.96 L94.48 34.19 L94.68 35.42 L94.89 36.66 L95.09 37.89 L95.29 39.12 L95.49 40.36 L95.69 41.59 L95.90 42.82 L96.10 44.06 L96.31 45.29 L96.52 46.52 L96.73 47.76 L96.94 48.99 L97.16 50.22 L97.37 51.45 L97.60 52.68 L97.82 53.91 L98.05 55.14 L98.29 56.36 L98.53 57.59 L98.77 58.81 L99.02 60.04 L99.27 61.26 L99.54 62.48 L99.80 63.70 L100.07 64.91 L100.35 66.13 L100.64 67.34 L100.94 68.55 L101.24 69.76 L101.55 70.96 L101.86 72.17 L102.19 73.37 L102.53 74.57 L102.87 75.76 L103.22 76.96 L103.58 78.15 L103.95 79.33 L104.33 80.52 L104.71 81.70 L105.10 82.89 L105.50 84.07 L105.90 85.24 L106.31 86.42 L106.72 87.59 L107.14 88.77 L107.56 89.94 L107.99 91.11 L108.42 92.28 L108.85 93.44 L109.28 94.61 L109.72 95.78 L110.16 96.94 L110.60 98.10 L111.04 99.27 L111.48 100.43 L111.92 101.59 L112.36 102.75 L112.80 103.91 L113.24 105.07 L113.68 106.23 L114.12 107.39 L114.56 108.55 L115.00 109.71 L115.44 110.87 L115.88 112.03 L116.32 113.19 L116.76 114.35 L117.21 115.50 L117.65 116.66 L118.10 117.82 L118.55 118.97 L118.99 120.13 L119.45 121.28 L119.90 122.43 L120.36 123.59 L120.81 124.74 L121.28 125.89 L121.74 127.04 L122.21 128.19 L122.68 129.34 L123.15 130.49 L123.63 131.64 L124.11 132.78 L124.60 133.93 L125.09 135.07 L125.58 136.21 L126.08 137.35 L126.59 138.49 L127.10 139.62 L127.62 140.75 L128.14 141.88 L128.68 143.00 L129.22 144.12 L129.77 145.24 L130.32 146.35 L130.89 147.45 L131.46 148.55 L132.05 149.64 L132.65 150.73 L133.26 151.81 L133.88 152.88 L134.51 153.94 L135.15 155.00 L135.81 156.04 L136.48 157.08 L137.17 158.11 L137.88 159.13 L138.60 160.13 L139.34 161.13 L140.09 162.10 L140.87 163.06 L141.66 164.01 L142.47 164.93 L143.30 165.83 L144.15 166.71 L145.02 167.57 L145.91 168.40 L146.82 169.21 L147.76 169.99 L148.71 170.73 L149.68 171.46 L150.67 172.15 L151.67 172.83 L152.68 173.48 L153.71 174.12 L154.74 174.74 L155.79 175.35 L156.84 175.94 L157.90 176.52 L158.96 177.08 L160.03 177.64 L161.10 178.19 L162.18 178.73 L163.25 179.27 L164.33 179.80 L165.41 180.33 L166.49 180.85 L167.57 181.38 L168.65 181.90 L169.73 182.42 L170.81 182.94 L171.89 183.46 L172.97 183.97 L174.06 184.47 L175.14 184.98 L176.23 185.48 L177.32 185.97 L178.41 186.47 L179.50 186.96 L180.59 187.45 L181.68 187.93 L182.78 188.42 L183.87 188.91 L184.96 189.39 L186.05 189.88 L187.15 190.36 L188.24 190.84 L189.34 191.31 L190.44 191.78 L191.54 192.25 L192.64 192.71 L193.75 193.16 L194.85 193.61 L195.96 194.06 L197.07 194.50 L198.18 194.94 L199.30 195.37 L200.41 195.80 L201.53 196.22 L202.64 196.64 L203.76 197.05 L204.88 197.46 L206.00 197.86 L207.13 198.26 L208.25 198.65 L209.38 199.04 L210.51 199.42 L211.64 199.79 L212.77 200.16 L213.90 200.52 L215.04 200.88 L216.17 201.23 L217.31 201.57 L218.45 201.91 L219.59 202.24 L220.73 202.57 L221.88 202.89 L223.02 203.20 L224.17 203.51 L225.32 203.81 L226.47 204.11 L227.62 204.41 L228.77 204.69 L229.92 204.98 L231.08 205.26 L232.23 205.53 L233.39 205.80 L234.55 206.07 L235.71 206.33 L236.87 206.58 L238.03 206.84 L239.19 207.09 L240.35 207.33 L241.51 207.58 L242.68 207.82 L243.84 208.05 L245.01 208.29 L246.17 208.52 L247.34 208.74 L248.50 208.97 L249.67 209.19 L250.84 209.41 L252.01 209.63 L253.18 209.85 L254.35 210.06 L255.52 210.27 L256.69 210.48 L257.86 210.69 L259.03 210.89 L260.20 211.10 L261.38 211.30 L262.55 211.50 L263.72 211.69 L264.89 211.89 L266.07 212.08 L267.24 212.27 L268.42 212.46 L269.59 212.65 L270.77 212.83 L271.94 213.02 L273.12 213.20 L274.29 213.38 L275.47 213.56 L276.64 213.74 L277.82 213.92 L278.99 214.10 L280.17 214.27 L281.34 214.44 L282.52 214.62 L283.70 214.79 L284.87 214.96 L286.05 215.12 L287.22 215.29 L288.40 215.45 L289.58 215.61 L290.76 215.76 L291.93 215.92 L293.11 216.07 L294.29 216.22 L295.47 216.36 L296.65 216.51 L297.83 216.65 L299.01 216.80 L300.18 216.94 L301.36 217.08 L302.54 217.22 L303.72 217.36 L304.90 217.49 L306.08 217.62 L307.26 217.75 L308.44 217.88 L309.62 218.01 L310.80 218.13 L311.99 218.25 L313.17 218.38 L314.35 218.50 L315.53 218.62 L316.71 218.74 L317.89 218.86 L319.07 218.98 L320.25 219.09 L321.44 219.21 L322.62 219.33 L323.80 219.45 L324.98 219.57 L326.16 219.68 L327.34 219.80 L328.53 219.92 L329.71 220.04 L330.89 220.16 L332.07 220.28 L333.25 220.41 L334.43 220.53 L335.62 220.65 L336.80 220.77 L337.98 220.89 L339.16 221.00 L340.34 221.12 L341.52 221.24 L342.71 221.35 L343.89 221.46 L345.07 221.57 L346.26 221.67 L347.44 221.77 L348.62 221.86 L349.81 221.96 L350.99 222.04 L352.18 222.13 L353.36 222.22 L354.55 222.30 L355.73 222.38 L356.92 222.47 L358.10 222.55 L359.29 222.63 L360.47 222.71 L361.66 222.79 L362.84 222.87 L364.03 222.95 L365.21 223.02 L366.40 223.10 L367.58 223.17 L368.77 223.24 L369.95 223.31 L371.14 223.38 L372.33 223.44 L373.51 223.51 L374.70 223.57 L375.88 223.63 L377.07 223.69 L378.26 223.75 L379.44 223.81 L380.63 223.86 L381.81 223.92 L383.00 223.97 L384.19 224.02 L385.37 224.07 L386.56 224.12 L387.74 224.17 L388.93 224.22 L390.12 224.26 L391.30 224.31 L392.49 224.35 L393.68 224.39 L394.86 224.43 L396.05 224.47 L397.23 224.51 L398.42 224.55 L399.61 224.59 L400.79 224.63 L401.98 224.66 L403.16 224.70 L404.35 224.74 L405.53 224.78 L406.72 224.81 L407.91 224.85 L409.09 224.88 L410.28 224.92 L411.46 224.96 L412.65 225.00 L413.83 225.04 L415.01 225.09 L416.20 225.13" stroke="#26ea58" stroke-dasharray="9.95 4.78" stroke-dashoffset="-1.4"/>
<path d="M93.42 25.51 L93.63 26.74 L93.84 27.97 L94.04 29.20 L94.25 30.43 L94.45 31.66 L94.65 32.89 L94.85 34.12 L95.05 35.36 L95.25 36.59 L95.45 37.82 L95.66 39.06 L95.86 40.29 L96.06 41.52 L96.27 42.76 L96.48 43.99 L96.69 45.22 L96.90 46.45 L97.11 47.68 L97.33 48.91 L97.55 50.14 L97.78 51.37 L98.00 52.60 L98.24 53.82 L98.47 55.05 L98.72 56.27 L98.96 57.49 L99.22 58.71 L99.47 59.93 L99.74 61.15 L100.01 62.36 L100.29 63.58 L100.57 64.79 L100.86 66.00 L101.16 67.20 L101.47 68.40 L101.78 69.60 L102.10 70.80 L102.44 72.00 L102.78 73.19 L103.13 74.38 L103.48 75.56 L103.85 76.75 L104.22 77.93 L104.60 79.11 L104.99 80.28 L105.38 81.46 L105.78 82.63 L106.19 83.81 L106.60 84.98 L107.01 86.15 L107.43 87.31 L107.86 88.48 L108.28 89.65 L108.71 90.81 L109.15 91.98 L109.58 93.14 L110.02 94.30 L110.46 95.47 L110.90 96.63 L111.34 97.79 L111.78 98.95 L112.22 100.12 L112.66 101.28 L113.10 102.44 L113.54 103.60 L113.98 104.76 L114.42 105.92 L114.86 107.08 L115.30 108.24 L115.74 109.40 L116.18 110.56 L116.62 111.72 L117.06 112.88 L117.50 114.03 L117.95 115.19 L118.40 116.34 L118.84 117.50 L119.29 118.65 L119.74 119.80 L120.20 120.95 L120.65 122.10 L121.11 123.25 L121.57 124.40 L122.04 125.55 L122.50 126.70 L122.97 127.84 L123.45 128.99 L123.93 130.13 L124.41 131.28 L124.89 132.42 L125.38 133.56 L125.88 134.69 L126.38 135.83 L126.89 136.96 L127.40 138.08 L127.92 139.21 L128.45 140.33 L128.98 141.44 L129.52 142.55 L130.07 143.65 L130.63 144.75 L131.20 145.85 L131.77 146.93 L132.36 148.01 L132.95 149.08 L133.56 150.15 L134.18 151.21 L134.81 152.26 L135.45 153.29 L136.10 154.33 L136.77 155.35 L137.45 156.36 L138.15 157.35 L138.86 158.34 L139.59 159.31 L140.34 160.27 L141.10 161.21 L141.88 162.13 L142.68 163.03 L143.50 163.90 L144.33 164.76 L145.19 165.58 L146.06 166.38 L146.95 167.15 L147.86 167.89 L148.78 168.60 L149.73 169.29 L150.69 169.95 L151.67 170.59 L152.66 171.21 L153.67 171.82 L154.68 172.41 L155.71 173.00 L156.75 173.57 L157.79 174.14 L158.84 174.70 L159.90 175.26 L160.96 175.82 L162.01 176.37 L163.08 176.93 L164.14 177.47 L165.20 178.01 L166.27 178.55 L167.34 179.08 L168.41 179.60 L169.48 180.12 L170.56 180.64 L171.63 181.16 L172.71 181.67 L173.78 182.17 L174.86 182.68 L175.94 183.18 L177.02 183.67 L178.10 184.17 L179.18 184.66 L180.27 185.16 L181.35 185.65 L182.43 186.13 L183.52 186.62 L184.61 187.09 L185.70 187.57 L186.79 188.04 L187.88 188.51 L188.98 188.97 L190.07 189.43 L191.17 189.89 L192.27 190.34 L193.37 190.78 L194.47 191.23 L195.57 191.66 L196.67 192.10 L197.78 192.53 L198.89 192.95 L199.99 193.37 L201.10 193.79 L202.21 194.20 L203.33 194.61 L204.44 195.01 L205.55 195.40 L206.67 195.80 L207.79 196.18 L208.90 196.57 L210.02 196.94 L211.14 197.31 L212.26 197.68 L213.39 198.04 L214.51 198.40 L215.64 198.75 L216.76 199.10 L217.89 199.45 L219.02 199.79 L220.15 200.13 L221.28 200.46 L222.41 200.79 L223.55 201.12 L224.68 201.44 L225.82 201.76 L226.95 202.07 L228.09 202.38 L229.23 202.69 L230.37 202.99 L231.52 203.29 L232.66 203.59 L233.80 203.88 L234.95 204.17 L236.10 204.46 L237.25 204.74 L238.39 205.02 L239.55 205.29 L240.70 205.56 L241.85 205.84 L243.00 206.11 L244.15 206.39 L245.30 206.67 L246.46 206.94 L247.61 207.22 L248.77 207.49 L249.92 207.76 L251.08 208.01 L252.24 208.26 L253.40 208.50 L254.57 208.73 L255.74 208.94 L256.90 209.15 L258.07 209.36 L259.24 209.56 L260.41 209.76 L261.58 209.95 L262.75 210.15 L263.93 210.34 L265.10 210.53 L266.27 210.71 L267.44 210.90 L268.62 211.08 L269.79 211.26 L270.97 211.44 L272.14 211.61 L273.31 211.78 L274.49 211.95 L275.66 212.12 L276.84 212.29 L278.02 212.46 L279.19 212.62 L280.37 212.78 L281.54 212.94 L282.72 213.10 L283.90 213.25 L285.07 213.41 L286.25 213.56 L287.43 213.70 L288.61 213.83 L289.79 213.95 L290.97 214.07 L292.15 214.18 L293.33 214.29 L294.51 214.40 L295.69 214.51 L296.87 214.62 L298.06 214.73 L299.24 214.85 L300.42 214.97 L301.60 215.09 L302.77 215.22 L303.95 215.34 L305.13 215.47 L306.31 215.59 L307.49 215.71 L308.67 215.84 L309.85 215.96 L311.03 216.09 L312.21 216.21 L313.39 216.33 L314.57 216.45 L315.75 216.57 L316.93 216.70 L318.11 216.82 L319.29 216.93 L320.47 217.05 L321.65 217.17 L322.83 217.29 L324.01 217.40 L325.19 217.51 L326.37 217.63 L327.55 217.74 L328.73 217.85 L329.92 217.95 L331.10 218.06 L332.28 218.17 L333.46 218.27 L334.64 218.38 L335.83 218.48 L337.01 218.58 L338.19 218.69 L339.37 218.78 L340.55 218.88 L341.74 218.98 L342.92 219.08 L344.10 219.17 L345.29 219.26 L346.47 219.35 L347.65 219.43 L348.84 219.52 L350.02 219.60 L351.20 219.68 L352.39 219.75 L353.57 219.83 L354.76 219.90 L355.94 219.98 L357.13 220.05 L358.31 220.12 L359.49 220.19 L360.68 220.26 L361.86 220.32 L363.05 220.39 L364.23 220.46 L365.42 220.52 L366.60 220.59 L367.79 220.66 L368.97 220.73 L370.15 220.79 L371.34 220.86 L372.52 220.93 L373.71 221.00 L374.89 221.07 L376.07 221.14 L377.26 221.21 L378.44 221.28 L379.62 221.35 L380.81 221.42 L381.99 221.49 L383.17 221.56 L384.36 221.63 L385.54 221.70 L386.72 221.77 L387.91 221.83 L389.09 221.90 L390.27 221.97 L391.46 222.03 L392.64 222.09 L393.82 222.16 L395.01 222.22 L396.19 222.28 L397.37 222.34 L398.56 222.40 L399.74 222.45 L400.92 222.51 L402.11 222.57 L403.29 222.62 L404.47 222.67 L405.66 222.72 L406.84 222.77 L408.02 222.82 L409.20 222.87 L410.39 222.92 L411.57 222.96 L412.75 223.01 L413.94 223.05 L415.12 223.10 L416.31 223.14" stroke="#ff4022" stroke-dasharray="9.95 4.78" stroke-dashoffset="-1.4"/>
<path d="M93.03 25.59 L93.24 26.81 L93.46 28.04 L93.66 29.27 L93.87 30.50 L94.08 31.73 L94.28 32.96 L94.48 34.19 L94.69 35.42 L94.89 36.66 L95.09 37.89 L95.29 39.12 L95.49 40.36 L95.69 41.59 L95.90 42.82 L96.10 44.06 L96.31 45.29 L96.52 46.52 L96.73 47.76 L96.94 48.99 L97.16 50.22 L97.38 51.45 L97.60 52.68 L97.82 53.91 L98.05 55.14 L98.29 56.36 L98.53 57.59 L98.77 58.81 L99.02 60.04 L99.28 61.26 L99.54 62.48 L99.80 63.70 L100.08 64.91 L100.36 66.13 L100.64 67.34 L100.94 68.55 L101.24 69.76 L101.55 70.96 L101.87 72.17 L102.19 73.37 L102.53 74.57 L102.87 75.76 L103.23 76.95 L103.59 78.14 L103.96 79.33 L104.33 80.52 L104.72 81.70 L105.11 82.88 L105.51 84.06 L105.91 85.24 L106.32 86.42 L106.73 87.59 L107.15 88.76 L107.57 89.93 L108.00 91.10 L108.43 92.27 L108.86 93.44 L109.29 94.61 L109.73 95.77 L110.17 96.94 L110.61 98.10 L111.05 99.26 L111.49 100.42 L111.93 101.58 L112.37 102.75 L112.82 103.91 L113.26 105.07 L113.70 106.23 L114.14 107.39 L114.58 108.55 L115.02 109.71 L115.46 110.87 L115.90 112.02 L116.34 113.18 L116.78 114.34 L117.23 115.50 L117.67 116.65 L118.12 117.81 L118.57 118.96 L119.02 120.12 L119.47 121.27 L119.93 122.42 L120.38 123.58 L120.84 124.73 L121.30 125.88 L121.77 127.03 L122.24 128.18 L122.71 129.33 L123.18 130.47 L123.66 131.62 L124.15 132.77 L124.63 133.91 L125.13 135.05 L125.62 136.20 L126.13 137.33 L126.64 138.47 L127.15 139.60 L127.68 140.73 L128.21 141.85 L128.74 142.97 L129.29 144.08 L129.85 145.19 L130.41 146.29 L130.99 147.39 L131.57 148.48 L132.17 149.57 L132.78 150.64 L133.40 151.71 L134.03 152.78 L134.67 153.83 L135.33 154.87 L136.00 155.91 L136.68 156.94 L137.38 157.95 L138.09 158.96 L138.81 159.96 L139.56 160.94 L140.31 161.91 L141.09 162.86 L141.88 163.79 L142.69 164.71 L143.52 165.61 L144.36 166.49 L145.22 167.34 L146.11 168.17 L147.01 168.97 L147.93 169.75 L148.87 170.50 L149.83 171.23 L150.81 171.94 L151.79 172.62 L152.80 173.29 L153.81 173.95 L154.83 174.58 L155.86 175.21 L156.90 175.82 L157.94 176.43 L158.99 177.03 L160.04 177.62 L161.09 178.21 L162.15 178.79 L163.20 179.37 L164.26 179.95 L165.32 180.52 L166.38 181.08 L167.44 181.64 L168.51 182.20 L169.58 182.75 L170.65 183.30 L171.72 183.84 L172.79 184.38 L173.86 184.91 L174.94 185.44 L176.02 185.97 L177.10 186.49 L178.18 187.00 L179.26 187.52 L180.35 188.03 L181.44 188.53 L182.52 189.03 L183.62 189.53 L184.71 190.02 L185.80 190.51 L186.90 190.99 L188.00 191.47 L189.10 191.94 L190.20 192.42 L191.30 192.88 L192.40 193.34 L193.51 193.80 L194.62 194.26 L195.73 194.70 L196.84 195.15 L197.95 195.59 L199.07 196.02 L200.18 196.45 L201.30 196.88 L202.42 197.30 L203.54 197.71 L204.67 198.12 L205.79 198.52 L206.92 198.92 L208.05 199.31 L209.17 199.70 L210.31 200.08 L211.44 200.46 L212.57 200.83 L213.71 201.20 L214.84 201.56 L215.98 201.91 L217.12 202.26 L218.26 202.60 L219.41 202.94 L220.55 203.27 L221.70 203.60 L222.84 203.92 L223.99 204.23 L225.14 204.55 L226.29 204.85 L227.44 205.15 L228.60 205.45 L229.75 205.74 L230.90 206.03 L232.06 206.32 L233.22 206.59 L234.38 206.87 L235.54 207.14 L236.70 207.41 L237.86 207.67 L239.02 207.93 L240.18 208.18 L241.35 208.44 L242.51 208.68 L243.68 208.93 L244.84 209.17 L246.01 209.41 L247.18 209.64 L248.35 209.87 L249.51 210.10 L250.68 210.32 L251.85 210.54 L253.02 210.76 L254.20 210.98 L255.37 211.19 L256.54 211.40 L257.71 211.61 L258.89 211.82 L260.06 212.02 L261.23 212.22 L262.41 212.42 L263.58 212.62 L264.76 212.81 L265.93 213.01 L267.11 213.20 L268.28 213.39 L269.46 213.57 L270.63 213.76 L271.81 213.95 L272.99 214.13 L274.16 214.31 L275.34 214.49 L276.51 214.67 L277.69 214.85 L278.87 215.03 L280.04 215.20 L281.22 215.37 L282.40 215.55 L283.57 215.72 L284.75 215.89 L285.93 216.05 L287.11 216.22 L288.28 216.39 L289.46 216.55 L290.64 216.71 L291.82 216.88 L292.99 217.04 L294.17 217.20 L295.35 217.35 L296.53 217.51 L297.71 217.67 L298.88 217.82 L300.06 217.98 L301.24 218.13 L302.42 218.28 L303.60 218.43 L304.78 218.58 L305.96 218.73 L307.14 218.88 L308.32 219.02 L309.50 219.17 L310.67 219.31 L311.85 219.46 L313.03 219.60 L314.21 219.74 L315.39 219.88 L316.57 220.02 L317.75 220.16 L318.93 220.30 L320.11 220.44 L321.30 220.57 L322.48 220.71 L323.66 220.84 L324.84 220.98 L326.02 221.11 L327.20 221.24 L328.38 221.37 L329.56 221.50 L330.74 221.63 L331.92 221.76 L333.11 221.89 L334.29 222.02 L335.47 222.15 L336.65 222.28 L337.83 222.40 L339.02 222.53 L340.20 222.65 L341.38 222.77 L342.56 222.90 L343.74 223.02 L344.93 223.14 L346.11 223.26 L347.29 223.38 L348.48 223.50 L349.66 223.62 L350.84 223.74 L352.02 223.85 L353.21 223.97 L354.39 224.09 L355.57 224.20 L356.76 224.31 L357.94 224.43 L359.12 224.54 L360.31 224.65 L361.49 224.76 L362.68 224.87 L363.86 224.98 L365.04 225.09 L366.23 225.19 L367.41 225.30 L368.60 225.41 L369.78 225.51 L370.96 225.62 L372.15 225.72 L373.33 225.82 L374.52 225.92 L375.70 226.02 L376.89 226.12 L378.07 226.22 L379.25 226.32 L380.44 226.42 L381.62 226.51 L382.81 226.61 L383.99 226.70 L385.18 226.80 L386.36 226.89 L387.55 226.98 L388.73 227.07 L389.92 227.16 L391.10 227.25 L392.29 227.34 L393.47 227.43 L394.66 227.51 L395.85 227.60 L397.03 227.68 L398.22 227.77 L399.40 227.85 L400.59 227.93 L401.77 228.01 L402.96 228.09 L404.14 228.17 L405.33 228.25 L406.51 228.33 L407.70 228.40 L408.89 228.48 L410.07 228.55 L411.26 228.62 L412.44 228.70 L413.63 228.77 L414.81 228.84 L416.00 228.91" stroke="#111111" stroke-dasharray="9.95 4.78" stroke-dashoffset="-1.4" stroke-width="1.45"/>
</g></g>
<path d="M81.80 24.80 H411.60 V250.00 H81.80 Z M98.73 250.00 v-2.25 M98.73 24.80 v2.25 M115.66 250.00 v-2.25 M115.66 24.80 v2.25 M132.59 250.00 v-2.25 M132.59 24.80 v2.25 M149.52 250.00 v-4.50 M149.52 24.80 v4.50 M166.45 250.00 v-2.25 M166.45 24.80 v2.25 M183.38 250.00 v-2.25 M183.38 24.80 v2.25 M200.31 250.00 v-2.25 M200.31 24.80 v2.25 M217.24 250.00 v-2.25 M217.24 24.80 v2.25 M234.17 250.00 v-4.50 M234.17 24.80 v4.50 M251.10 250.00 v-2.25 M251.10 24.80 v2.25 M268.03 250.00 v-2.25 M268.03 24.80 v2.25 M284.96 250.00 v-2.25 M284.96 24.80 v2.25 M301.89 250.00 v-2.25 M301.89 24.80 v2.25 M318.82 250.00 v-4.50 M318.82 24.80 v4.50 M335.75 250.00 v-2.25 M335.75 24.80 v2.25 M352.68 250.00 v-2.25 M352.68 24.80 v2.25 M369.61 250.00 v-2.25 M369.61 24.80 v2.25 M386.54 250.00 v-2.25 M386.54 24.80 v2.25 M403.47 250.00 v-4.50 M403.47 24.80 v4.50 M81.80 250.30 h6.60 M411.60 250.30 h-6.60 M81.80 241.65 h3.30 M411.60 241.65 h-3.30 M81.80 232.99 h3.30 M411.60 232.99 h-3.30 M81.80 224.34 h3.30 M411.60 224.34 h-3.30 M81.80 215.69 h6.60 M411.60 215.69 h-6.60 M81.80 207.03 h3.30 M411.60 207.03 h-3.30 M81.80 198.38 h3.30 M411.60 198.38 h-3.30 M81.80 189.73 h3.30 M411.60 189.73 h-3.30 M81.80 181.07 h6.60 M411.60 181.07 h-6.60 M81.80 172.42 h3.30 M411.60 172.42 h-3.30 M81.80 163.77 h3.30 M411.60 163.77 h-3.30 M81.80 155.11 h3.30 M411.60 155.11 h-3.30 M81.80 146.46 h6.60 M411.60 146.46 h-6.60 M81.80 137.80 h3.30 M411.60 137.80 h-3.30 M81.80 129.15 h3.30 M411.60 129.15 h-3.30 M81.80 120.50 h3.30 M411.60 120.50 h-3.30 M81.80 111.84 h6.60 M411.60 111.84 h-6.60 M81.80 103.19 h3.30 M411.60 103.19 h-3.30 M81.80 94.54 h3.30 M411.60 94.54 h-3.30 M81.80 85.88 h3.30 M411.60 85.88 h-3.30 M81.80 77.23 h6.60 M411.60 77.23 h-6.60 M81.80 68.58 h3.30 M411.60 68.58 h-3.30 M81.80 59.92 h3.30 M411.60 59.92 h-3.30 M81.80 51.27 h3.30 M411.60 51.27 h-3.30 M81.80 42.62 h6.60 M411.60 42.62 h-6.60 M81.80 33.96 h3.30 M411.60 33.96 h-3.30 M81.80 25.31 h3.30 M411.60 25.31 h-3.30" fill="none" stroke="#1a1a1a" stroke-width="1.25" stroke-linecap="butt" stroke-linejoin="miter"/>
<path d="M204.46 13.34 L210.89 13.34 L210.89 12.38 L210.36 11.41 L209.82 10.93 L208.75 10.45 L207.14 10.45 L206.07 10.93 L205.00 11.89 L204.46 13.34 L204.46 14.31 L205.00 15.75 L206.07 16.72 L207.14 17.20 L208.75 17.20 L209.82 16.72 L210.89 15.75 M220.54 10.45 L220.54 20.58 M220.54 11.89 L219.47 10.93 L218.40 10.45 L216.79 10.45 L215.72 10.93 L214.64 11.89 L214.11 13.34 L214.11 14.31 L214.64 15.75 L215.72 16.72 L216.79 17.20 L218.40 17.20 L219.47 16.72 L220.54 15.75 M224.83 10.45 L224.83 15.27 L225.36 16.72 L226.44 17.20 L228.04 17.20 L229.12 16.72 L230.72 15.27 M230.72 10.45 L230.72 17.20 M234.48 7.07 L235.01 7.55 L235.55 7.07 L235.01 6.59 L234.48 7.07 M235.01 10.45 L235.01 17.20 M239.30 7.07 L239.30 17.20 M249.48 10.45 L249.48 17.20 M249.48 11.89 L248.41 10.93 L247.34 10.45 L245.73 10.45 L244.66 10.93 L243.59 11.89 L243.05 13.34 L243.05 14.31 L243.59 15.75 L244.66 16.72 L245.73 17.20 L247.34 17.20 L248.41 16.72 L249.48 15.75 M254.31 7.07 L254.31 15.27 L254.84 16.72 L255.92 17.20 L256.99 17.20 M252.70 10.45 L256.45 10.45 M259.67 13.34 L266.10 13.34 L266.10 12.38 L265.56 11.41 L265.03 10.93 L263.96 10.45 L262.35 10.45 L261.28 10.93 L260.20 11.89 L259.67 13.34 L259.67 14.31 L260.20 15.75 L261.28 16.72 L262.35 17.20 L263.96 17.20 L265.03 16.72 L266.10 15.75 M269.85 10.45 L269.85 17.20 M269.85 13.34 L270.39 11.89 L271.46 10.93 L272.53 10.45 L274.14 10.45 M282.72 10.45 L282.72 17.20 M282.72 11.89 L281.64 10.93 L280.57 10.45 L278.96 10.45 L277.89 10.93 L276.82 11.89 L276.28 13.34 L276.28 14.31 L276.82 15.75 L277.89 16.72 L278.96 17.20 L280.57 17.20 L281.64 16.72 L282.72 15.75 M287.00 7.07 L287.00 17.20" fill="none" stroke="#151515" stroke-width="1.30" stroke-linecap="round" stroke-linejoin="round"/>
<path d="M142.70 260.61 L138.42 260.61 L137.99 264.08 L138.42 263.69 L139.70 263.31 L140.99 263.31 L142.27 263.69 L143.13 264.46 L143.56 265.62 L143.56 266.39 L143.13 267.54 L142.27 268.31 L140.99 268.70 L139.70 268.70 L138.42 268.31 L137.99 267.93 L137.56 267.16 M148.69 260.61 L147.41 261.00 L146.55 262.15 L146.12 264.08 L146.12 265.23 L146.55 267.16 L147.41 268.31 L148.69 268.70 L149.55 268.70 L150.83 268.31 L151.69 267.16 L152.12 265.23 L152.12 264.08 L151.69 262.15 L150.83 261.00 L149.55 260.61 L148.69 260.61 M157.25 260.61 L155.97 261.00 L155.11 262.15 L154.68 264.08 L154.68 265.23 L155.11 267.16 L155.97 268.31 L157.25 268.70 L158.11 268.70 L159.39 268.31 L160.25 267.16 L160.68 265.23 L160.68 264.08 L160.25 262.15 L159.39 261.00 L158.11 260.61 L157.25 260.61" fill="none" stroke="#151515" stroke-width="1.25" stroke-linecap="round" stroke-linejoin="round"/>
<path d="M219.22 262.15 L220.08 261.77 L221.36 260.61 L221.36 268.70 M229.06 260.61 L227.78 261.00 L226.92 262.15 L226.50 264.08 L226.50 265.23 L226.92 267.16 L227.78 268.31 L229.06 268.70 L229.92 268.70 L231.20 268.31 L232.06 267.16 L232.49 265.23 L232.49 264.08 L232.06 262.15 L231.20 261.00 L229.92 260.61 L229.06 260.61 M237.62 260.61 L236.34 261.00 L235.48 262.15 L235.06 264.08 L235.06 265.23 L235.48 267.16 L236.34 268.31 L237.62 268.70 L238.48 268.70 L239.76 268.31 L240.62 267.16 L241.05 265.23 L241.05 264.08 L240.62 262.15 L239.76 261.00 L238.48 260.61 L237.62 260.61 M246.18 260.61 L244.90 261.00 L244.04 262.15 L243.62 264.08 L243.62 265.23 L244.04 267.16 L244.90 268.31 L246.18 268.70 L247.04 268.70 L248.32 268.31 L249.18 267.16 L249.61 265.23 L249.61 264.08 L249.18 262.15 L248.32 261.00 L247.04 260.61 L246.18 260.61" fill="none" stroke="#151515" stroke-width="1.25" stroke-linecap="round" stroke-linejoin="round"/>
<path d="M303.87 262.15 L304.73 261.77 L306.01 260.61 L306.01 268.70 M316.28 260.61 L312.00 260.61 L311.57 264.08 L312.00 263.69 L313.29 263.31 L314.57 263.31 L315.85 263.69 L316.71 264.46 L317.14 265.62 L317.14 266.39 L316.71 267.54 L315.85 268.31 L314.57 268.70 L313.29 268.70 L312.00 268.31 L311.57 267.93 L311.15 267.16 M322.27 260.61 L320.99 261.00 L320.13 262.15 L319.71 264.08 L319.71 265.23 L320.13 267.16 L320.99 268.31 L322.27 268.70 L323.13 268.70 L324.41 268.31 L325.27 267.16 L325.70 265.23 L325.70 264.08 L325.27 262.15 L324.41 261.00 L323.13 260.61 L322.27 260.61 M330.83 260.61 L329.55 261.00 L328.69 262.15 L328.27 264.08 L328.27 265.23 L328.69 267.16 L329.55 268.31 L330.83 268.70 L331.69 268.70 L332.97 268.31 L333.83 267.16 L334.26 265.23 L334.26 264.08 L333.83 262.15 L332.97 261.00 L331.69 260.61 L330.83 260.61" fill="none" stroke="#151515" stroke-width="1.25" stroke-linecap="round" stroke-linejoin="round"/>
<path d="M387.67 262.54 L387.67 262.15 L388.09 261.38 L388.52 261.00 L389.38 260.61 L391.09 260.61 L391.95 261.00 L392.37 261.38 L392.80 262.15 L392.80 262.92 L392.37 263.69 L391.52 264.85 L387.24 268.70 L393.23 268.70 M398.37 260.61 L397.08 261.00 L396.23 262.15 L395.80 264.08 L395.80 265.23 L396.23 267.16 L397.08 268.31 L398.37 268.70 L399.22 268.70 L400.51 268.31 L401.36 267.16 L401.79 265.23 L401.79 264.08 L401.36 262.15 L400.51 261.00 L399.22 260.61 L398.37 260.61 M406.93 260.61 L405.64 261.00 L404.79 262.15 L404.36 264.08 L404.36 265.23 L404.79 267.16 L405.64 268.31 L406.93 268.70 L407.78 268.70 L409.07 268.31 L409.92 267.16 L410.35 265.23 L410.35 264.08 L409.92 262.15 L409.07 261.00 L407.78 260.61 L406.93 260.61 M415.49 260.61 L414.20 261.00 L413.35 262.15 L412.92 264.08 L412.92 265.23 L413.35 267.16 L414.20 268.31 L415.49 268.70 L416.34 268.70 L417.63 268.31 L418.48 267.16 L418.91 265.23 L418.91 264.08 L418.48 262.15 L417.63 261.00 L416.34 260.61 L415.49 260.61" fill="none" stroke="#151515" stroke-width="1.25" stroke-linecap="round" stroke-linejoin="round"/>
<path d="M195.05 279.41 L195.05 284.80 M195.05 280.95 L196.34 279.79 L197.19 279.41 L198.48 279.41 L199.33 279.79 L199.76 280.95 L199.76 284.80 M199.76 280.95 L201.05 279.79 L201.90 279.41 L203.19 279.41 L204.04 279.79 L204.47 280.95 L204.47 284.80 M212.60 279.41 L212.60 284.80 M212.60 280.56 L211.75 279.79 L210.89 279.41 L209.61 279.41 L208.75 279.79 L207.89 280.56 L207.47 281.72 L207.47 282.49 L207.89 283.64 L208.75 284.41 L209.61 284.80 L210.89 284.80 L211.75 284.41 L212.60 283.64 M215.60 279.41 L220.31 284.80 M220.31 279.41 L215.60 284.80 M230.15 279.41 L230.15 284.80 M230.15 280.95 L231.43 279.79 L232.29 279.41 L233.57 279.41 L234.43 279.79 L234.86 280.95 L234.86 284.80 M234.86 280.95 L236.14 279.79 L237.00 279.41 L238.28 279.41 L239.14 279.79 L239.57 280.95 L239.57 284.80 M242.99 279.41 L242.99 283.26 L243.42 284.41 L244.27 284.80 L245.56 284.80 L246.41 284.41 L247.70 283.26 M247.70 279.41 L247.70 284.80 M251.12 276.71 L251.12 284.80 M254.97 276.71 L254.97 283.26 L255.40 284.41 L256.26 284.80 L257.11 284.80 M253.69 279.41 L256.69 279.41 M259.25 276.71 L259.68 277.10 L260.11 276.71 L259.68 276.33 L259.25 276.71 M259.68 279.41 L259.68 284.80 M263.11 279.41 L263.11 287.50 M263.11 280.56 L263.96 279.79 L264.82 279.41 L266.10 279.41 L266.96 279.79 L267.81 280.56 L268.24 281.72 L268.24 282.49 L267.81 283.64 L266.96 284.41 L266.10 284.80 L264.82 284.80 L263.96 284.41 L263.11 283.64 M272.95 279.41 L272.09 279.79 L271.24 280.56 L270.81 281.72 L270.81 282.49 L271.24 283.64 L272.09 284.41 L272.95 284.80 L274.23 284.80 L275.09 284.41 L275.95 283.64 L276.37 282.49 L276.37 281.72 L275.95 280.56 L275.09 279.79 L274.23 279.41 L272.95 279.41 M279.37 276.71 L279.37 284.80 M282.37 281.72 L287.50 281.72 L287.50 280.95 L287.07 280.18 L286.65 279.79 L285.79 279.41 L284.51 279.41 L283.65 279.79 L282.79 280.56 L282.37 281.72 L282.37 282.49 L282.79 283.64 L283.65 284.41 L284.51 284.80 L285.79 284.80 L286.65 284.41 L287.50 283.64 M297.35 276.71 L297.35 284.80" fill="none" stroke="#151515" stroke-width="1.25" stroke-linecap="round" stroke-linejoin="round"/>
<path d="M61.89 213.97 L61.89 213.59 L62.32 212.82 L62.75 212.43 L63.60 212.05 L65.32 212.05 L66.17 212.43 L66.60 212.82 L67.03 213.59 L67.03 214.36 L66.60 215.13 L65.74 216.28 L61.46 220.14 L67.46 220.14 M72.59 212.05 L71.31 212.43 L70.45 213.59 L70.02 215.51 L70.02 216.67 L70.45 218.60 L71.31 219.75 L72.59 220.14 L73.45 220.14 L74.73 219.75 L75.59 218.60 L76.02 216.67 L76.02 215.51 L75.59 213.59 L74.73 212.43 L73.45 212.05 L72.59 212.05" fill="none" stroke="#151515" stroke-width="1.25" stroke-linecap="round" stroke-linejoin="round"/>
<path d="M65.74 177.53 L61.46 182.93 L67.88 182.93 M65.74 177.53 L65.74 185.62 M72.59 177.53 L71.31 177.92 L70.45 179.07 L70.02 181.00 L70.02 182.16 L70.45 184.08 L71.31 185.24 L72.59 185.62 L73.45 185.62 L74.73 185.24 L75.59 184.08 L76.02 182.16 L76.02 181.00 L75.59 179.07 L74.73 177.92 L73.45 177.53 L72.59 177.53" fill="none" stroke="#151515" stroke-width="1.25" stroke-linecap="round" stroke-linejoin="round"/>
<path d="M67.03 144.17 L66.60 143.40 L65.32 143.02 L64.46 143.02 L63.18 143.40 L62.32 144.56 L61.89 146.49 L61.89 148.41 L62.32 149.95 L63.18 150.72 L64.46 151.11 L64.89 151.11 L66.17 150.72 L67.03 149.95 L67.46 148.80 L67.46 148.41 L67.03 147.26 L66.17 146.49 L64.89 146.10 L64.46 146.10 L63.18 146.49 L62.32 147.26 L61.89 148.41 M72.59 143.02 L71.31 143.40 L70.45 144.56 L70.02 146.49 L70.02 147.64 L70.45 149.57 L71.31 150.72 L72.59 151.11 L73.45 151.11 L74.73 150.72 L75.59 149.57 L76.02 147.64 L76.02 146.49 L75.59 144.56 L74.73 143.40 L73.45 143.02 L72.59 143.02" fill="none" stroke="#151515" stroke-width="1.25" stroke-linecap="round" stroke-linejoin="round"/>
<path d="M63.60 108.50 L62.32 108.89 L61.89 109.66 L61.89 110.43 L62.32 111.20 L63.18 111.59 L64.89 111.97 L66.17 112.36 L67.03 113.13 L67.46 113.90 L67.46 115.05 L67.03 115.82 L66.60 116.21 L65.32 116.59 L63.60 116.59 L62.32 116.21 L61.89 115.82 L61.46 115.05 L61.46 113.90 L61.89 113.13 L62.75 112.36 L64.03 111.97 L65.74 111.59 L66.60 111.20 L67.03 110.43 L67.03 109.66 L66.60 108.89 L65.32 108.50 L63.60 108.50 M72.59 108.50 L71.31 108.89 L70.45 110.05 L70.02 111.97 L70.02 113.13 L70.45 115.05 L71.31 116.21 L72.59 116.59 L73.45 116.59 L74.73 116.21 L75.59 115.05 L76.02 113.13 L76.02 111.97 L75.59 110.05 L74.73 108.89 L73.45 108.50 L72.59 108.50" fill="none" stroke="#151515" stroke-width="1.25" stroke-linecap="round" stroke-linejoin="round"/>
<path d="M54.19 75.53 L55.04 75.15 L56.33 73.99 L56.33 82.08 M64.03 73.99 L62.75 74.38 L61.89 75.53 L61.46 77.46 L61.46 78.61 L61.89 80.54 L62.75 81.69 L64.03 82.08 L64.89 82.08 L66.17 81.69 L67.03 80.54 L67.46 78.61 L67.46 77.46 L67.03 75.53 L66.17 74.38 L64.89 73.99 L64.03 73.99 M72.59 73.99 L71.31 74.38 L70.45 75.53 L70.02 77.46 L70.02 78.61 L70.45 80.54 L71.31 81.69 L72.59 82.08 L73.45 82.08 L74.73 81.69 L75.59 80.54 L76.02 78.61 L76.02 77.46 L75.59 75.53 L74.73 74.38 L73.45 73.99 L72.59 73.99" fill="none" stroke="#151515" stroke-width="1.25" stroke-linecap="round" stroke-linejoin="round"/>
<path d="M54.19 41.02 L55.04 40.63 L56.33 39.48 L56.33 47.57 M61.89 41.40 L61.89 41.02 L62.32 40.25 L62.75 39.86 L63.60 39.48 L65.32 39.48 L66.17 39.86 L66.60 40.25 L67.03 41.02 L67.03 41.79 L66.60 42.56 L65.74 43.71 L61.46 47.57 L67.46 47.57 M72.59 39.48 L71.31 39.86 L70.45 41.02 L70.02 42.94 L70.02 44.10 L70.45 46.03 L71.31 47.18 L72.59 47.57 L73.45 47.57 L74.73 47.18 L75.59 46.03 L76.02 44.10 L76.02 42.94 L75.59 41.02 L74.73 39.86 L73.45 39.48 L72.59 39.48" fill="none" stroke="#151515" stroke-width="1.25" stroke-linecap="round" stroke-linejoin="round"/>
<path d="M72.59 241.91 L71.31 242.30 L70.45 243.45 L70.02 245.38 L70.02 246.53 L70.45 248.46 L71.31 249.61 L72.59 250.00 L73.45 250.00 L74.73 249.61 L75.59 248.46 L76.02 246.53 L76.02 245.38 L75.59 243.45 L74.73 242.30 L73.45 241.91 L72.59 241.91" fill="none" stroke="#151515" stroke-width="1.25" stroke-linecap="round" stroke-linejoin="round"/>
<path d="M33.89 147.01 L33.89 151.09 L34.32 151.90 L35.20 152.72 L36.51 153.12 L37.82 153.12 L39.13 152.72 L39.56 152.31 L40.00 151.49 L40.00 150.68 L39.56 149.86 L38.69 149.05 L37.38 148.64 L36.07 148.64 L34.76 149.05 L34.32 149.46 L33.89 150.27 M29.09 141.10 L29.96 141.92 L31.27 142.73 L33.02 143.55 L35.20 143.96 L36.94 143.96 L39.13 143.55 L40.87 142.73 L42.18 141.92 L43.06 141.10 M30.83 135.81 L30.83 136.62 L31.27 137.44 L32.58 137.84 L40.00 137.84 M33.89 139.07 L33.89 136.21 M38.26 133.37 L42.05 133.37 M39.35 133.37 L38.53 132.61 L38.26 132.11 L38.26 131.35 L38.53 130.84 L39.35 130.59 L42.05 130.59 M36.37 128.57 L42.05 128.57 M29.09 126.34 L29.96 125.52 L31.27 124.71 L33.02 123.89 L35.20 123.48 L36.94 123.48 L39.13 123.89 L40.87 124.71 L42.18 125.52 L43.06 126.34" fill="none" stroke="#151515" stroke-width="1.25" stroke-linecap="round" stroke-linejoin="round"/>
<rect x="283.0" y="34.60" width="121.8" height="54.60" fill="#fff" stroke="#333" stroke-width="0.7"/>
<path d="M355.7 42.20 H395.1" stroke="#4a1fff" stroke-width="1.35" fill="none"/>
<path d="M298.74 39.41 L298.17 39.41 L297.60 39.67 L297.31 40.44 L297.31 44.80 M296.46 41.21 L298.45 41.21 M305.01 41.72 L310.14 41.72 M305.01 43.26 L310.14 43.26 M320.69 39.41 L317.83 44.80 M316.69 39.41 L320.69 39.41 M325.81 39.41 L322.96 39.41 L322.68 41.72 L322.96 41.47 L323.82 41.21 L324.68 41.21 L325.53 41.47 L326.10 41.98 L326.38 42.75 L326.38 43.26 L326.10 44.03 L325.53 44.54 L324.68 44.80 L323.82 44.80 L322.96 44.54 L322.68 44.29 L322.39 43.77 M336.93 40.70 L336.64 40.18 L336.07 39.67 L335.50 39.41 L334.37 39.41 L333.79 39.67 L333.22 40.18 L332.94 40.70 L332.65 41.47 L332.65 42.75 L332.94 43.52 L333.22 44.03 L333.79 44.54 L334.37 44.80 L335.50 44.80 L336.07 44.54 L336.64 44.03 L336.93 43.52 L336.93 42.75 M335.50 42.75 L336.93 42.75 M338.93 39.41 L338.93 44.80 M342.91 39.41 L342.91 44.80 M338.93 41.98 L342.91 41.98 M348.04 41.21 L344.91 44.80 M344.91 41.21 L348.04 41.21 M344.91 44.80 L348.04 44.80" fill="none" stroke="#222" stroke-width="0.58" stroke-linecap="round" stroke-linejoin="round"/>
<path d="M355.7 52.23 H395.1" stroke="#1ec8ff" stroke-width="1.35" fill="none"/>
<path d="M288.48 49.44 L287.91 49.44 L287.34 49.70 L287.05 50.47 L287.05 54.83 M286.20 51.24 L288.19 51.24 M294.75 51.75 L299.88 51.75 M294.75 53.29 L299.88 53.29 M307.29 50.47 L307.86 50.21 L308.71 49.44 L308.71 54.83 M313.84 49.44 L312.99 49.70 L312.42 50.47 L312.13 51.75 L312.13 52.52 L312.42 53.80 L312.99 54.57 L313.84 54.83 L314.41 54.83 L315.27 54.57 L315.84 53.80 L316.12 52.52 L316.12 51.75 L315.84 50.47 L315.27 49.70 L314.41 49.44 L313.84 49.44 M321.25 49.44 L318.40 49.44 L318.12 51.75 L318.40 51.50 L319.26 51.24 L320.12 51.24 L320.97 51.50 L321.54 52.01 L321.82 52.78 L321.82 53.29 L321.54 54.06 L320.97 54.57 L320.12 54.83 L319.26 54.83 L318.40 54.57 L318.12 54.32 L317.83 53.80 M332.37 50.73 L332.08 50.21 L331.51 49.70 L330.94 49.44 L329.81 49.44 L329.24 49.70 L328.66 50.21 L328.38 50.73 L328.09 51.50 L328.09 52.78 L328.38 53.55 L328.66 54.06 L329.24 54.57 L329.81 54.83 L330.94 54.83 L331.51 54.57 L332.08 54.06 L332.37 53.55 L332.37 52.78 M330.94 52.78 L332.37 52.78 M334.37 49.44 L334.37 54.83 M338.35 49.44 L338.35 54.83 M334.37 52.01 L338.35 52.01 M343.48 51.24 L340.35 54.83 M340.35 51.24 L343.48 51.24 M340.35 54.83 L343.48 54.83" fill="none" stroke="#222" stroke-width="0.58" stroke-linecap="round" stroke-linejoin="round"/>
<path d="M355.7 62.26 H395.1" stroke="#26ea58" stroke-width="1.35" fill="none"/>
<path d="M293.04 59.47 L292.47 59.47 L291.90 59.73 L291.62 60.50 L291.62 64.86 M290.76 61.27 L292.75 61.27 M299.31 61.78 L304.44 61.78 M299.31 63.32 L304.44 63.32 M311.85 60.50 L312.42 60.24 L313.27 59.47 L313.27 64.86 M320.40 60.24 L320.12 59.73 L319.26 59.47 L318.69 59.47 L317.83 59.73 L317.26 60.50 L316.98 61.78 L316.98 63.06 L317.26 64.09 L317.83 64.60 L318.69 64.86 L318.97 64.86 L319.83 64.60 L320.40 64.09 L320.69 63.32 L320.69 63.06 L320.40 62.30 L319.83 61.78 L318.97 61.53 L318.69 61.53 L317.83 61.78 L317.26 62.30 L316.98 63.06 M325.81 59.47 L322.96 59.47 L322.68 61.78 L322.96 61.53 L323.82 61.27 L324.68 61.27 L325.53 61.53 L326.10 62.04 L326.38 62.81 L326.38 63.32 L326.10 64.09 L325.53 64.60 L324.68 64.86 L323.82 64.86 L322.96 64.60 L322.68 64.35 L322.39 63.83 M336.93 60.76 L336.64 60.24 L336.07 59.73 L335.50 59.47 L334.37 59.47 L333.79 59.73 L333.22 60.24 L332.94 60.76 L332.65 61.53 L332.65 62.81 L332.94 63.58 L333.22 64.09 L333.79 64.60 L334.37 64.86 L335.50 64.86 L336.07 64.60 L336.64 64.09 L336.93 63.58 L336.93 62.81 M335.50 62.81 L336.93 62.81 M338.93 59.47 L338.93 64.86 M342.91 59.47 L342.91 64.86 M338.93 62.04 L342.91 62.04 M348.04 61.27 L344.91 64.86 M344.91 61.27 L348.04 61.27 M344.91 64.86 L348.04 64.86" fill="none" stroke="#222" stroke-width="0.58" stroke-linecap="round" stroke-linejoin="round"/>
<path d="M355.7 72.29 H395.1" stroke="#ff4022" stroke-width="1.35" fill="none"/>
<path d="M293.04 69.50 L292.47 69.50 L291.90 69.76 L291.62 70.53 L291.62 74.89 M290.76 71.30 L292.75 71.30 M299.31 71.81 L304.44 71.81 M299.31 73.35 L304.44 73.35 M311.28 70.79 L311.28 70.53 L311.56 70.02 L311.85 69.76 L312.42 69.50 L313.56 69.50 L314.13 69.76 L314.41 70.02 L314.70 70.53 L314.70 71.04 L314.41 71.56 L313.84 72.32 L311.00 74.89 L314.99 74.89 M316.98 70.79 L316.98 70.53 L317.26 70.02 L317.55 69.76 L318.12 69.50 L319.26 69.50 L319.83 69.76 L320.12 70.02 L320.40 70.53 L320.40 71.04 L320.12 71.56 L319.54 72.32 L316.69 74.89 L320.69 74.89 M325.81 69.50 L322.96 69.50 L322.68 71.81 L322.96 71.56 L323.82 71.30 L324.68 71.30 L325.53 71.56 L326.10 72.07 L326.38 72.84 L326.38 73.35 L326.10 74.12 L325.53 74.63 L324.68 74.89 L323.82 74.89 L322.96 74.63 L322.68 74.38 L322.39 73.86 M336.93 70.79 L336.64 70.27 L336.07 69.76 L335.50 69.50 L334.37 69.50 L333.79 69.76 L333.22 70.27 L332.94 70.79 L332.65 71.56 L332.65 72.84 L332.94 73.61 L333.22 74.12 L333.79 74.63 L334.37 74.89 L335.50 74.89 L336.07 74.63 L336.64 74.12 L336.93 73.61 L336.93 72.84 M335.50 72.84 L336.93 72.84 M338.93 69.50 L338.93 74.89 M342.91 69.50 L342.91 74.89 M338.93 72.07 L342.91 72.07 M348.04 71.30 L344.91 74.89 M344.91 71.30 L348.04 71.30 M344.91 74.89 L348.04 74.89" fill="none" stroke="#222" stroke-width="0.58" stroke-linecap="round" stroke-linejoin="round"/>
<path d="M355.7 82.32 H395.1" stroke="#2a2a2a" stroke-width="1.35" fill="none"/>
<path d="M300.16 81.33 L300.16 84.92 M300.16 82.35 L301.02 81.59 L301.59 81.33 L302.44 81.33 L303.01 81.59 L303.30 82.35 L303.30 84.92 M306.72 81.33 L306.15 81.59 L305.58 82.10 L305.29 82.87 L305.29 83.38 L305.58 84.15 L306.15 84.66 L306.72 84.92 L307.57 84.92 L308.14 84.66 L308.71 84.15 L309.00 83.38 L309.00 82.87 L308.71 82.10 L308.14 81.59 L307.57 81.33 L306.72 81.33 M318.40 82.10 L318.12 81.59 L317.26 81.33 L316.41 81.33 L315.55 81.59 L315.27 82.10 L315.55 82.61 L316.12 82.87 L317.55 83.12 L318.12 83.38 L318.40 83.89 L318.40 84.15 L318.12 84.66 L317.26 84.92 L316.41 84.92 L315.55 84.66 L315.27 84.15 M321.54 81.33 L320.97 81.59 L320.40 82.10 L320.11 82.87 L320.11 83.38 L320.40 84.15 L320.97 84.66 L321.54 84.92 L322.39 84.92 L322.96 84.66 L323.53 84.15 L323.82 83.38 L323.82 82.87 L323.53 82.10 L322.96 81.59 L322.39 81.33 L321.54 81.33 M325.81 81.33 L325.81 83.89 L326.10 84.66 L326.67 84.92 L327.52 84.92 L328.09 84.66 L328.95 83.89 M328.95 81.33 L328.95 84.92 M331.23 81.33 L331.23 84.92 M331.23 82.87 L331.51 82.10 L332.08 81.59 L332.65 81.33 L333.51 81.33 M338.07 82.10 L337.50 81.59 L336.93 81.33 L336.07 81.33 L335.50 81.59 L334.94 82.10 L334.65 82.87 L334.65 83.38 L334.94 84.15 L335.50 84.66 L336.07 84.92 L336.93 84.92 L337.50 84.66 L338.07 84.15 M339.78 82.87 L343.20 82.87 L343.20 82.35 L342.91 81.84 L342.63 81.59 L342.06 81.33 L341.20 81.33 L340.63 81.59 L340.06 82.10 L339.78 82.87 L339.78 83.38 L340.06 84.15 L340.63 84.66 L341.20 84.92 L342.06 84.92 L342.63 84.66 L343.20 84.15 M348.04 82.10 L347.76 81.59 L346.90 81.33 L346.05 81.33 L345.19 81.59 L344.91 82.10 L345.19 82.61 L345.76 82.87 L347.19 83.12 L347.76 83.38 L348.04 83.89 L348.04 84.15 L347.76 84.66 L346.90 84.92 L346.05 84.92 L345.19 84.66 L344.91 84.15" fill="none" stroke="#222" stroke-width="0.58" stroke-linecap="round" stroke-linejoin="round"/>
</g>
</svg>
</body></html>
